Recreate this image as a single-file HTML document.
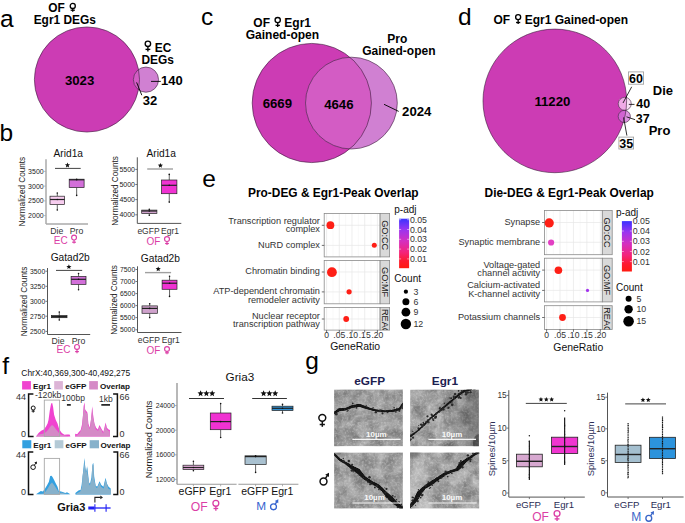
<!DOCTYPE html>
<html><head><meta charset="utf-8"><style>
html,body{margin:0;padding:0;background:#fff;width:685px;height:523px;overflow:hidden}
svg{display:block}
text{font-family:"Liberation Sans", sans-serif}
</style></head><body>
<svg width="685" height="523" viewBox="0 0 685 523">
<rect width="685" height="523" fill="#fff"/>
<text x="0" y="26.5" font-size="24.5" text-anchor="start" fill="#000">a</text>
<text x="-0.6" y="141" font-size="24.5" text-anchor="start" fill="#000">b</text>
<text x="201" y="24.7" font-size="24.5" text-anchor="start" fill="#000">c</text>
<text x="458" y="24.7" font-size="24.5" text-anchor="start" fill="#000">d</text>
<text x="202.3" y="187" font-size="24.5" text-anchor="start" fill="#000">e</text>
<text x="2.3" y="373.7" font-size="24.5" text-anchor="start" fill="#000">f</text>
<text x="305.3" y="369.2" font-size="24.5" text-anchor="start" fill="#000">g</text>
<text x="48.3" y="11.7" font-size="11.9" font-weight="bold" text-anchor="start" fill="#000">OF</text>
<circle cx="72.75" cy="5.9" r="2.5500000000000003" fill="none" stroke="#000" stroke-width="1.3"/>
<line x1="72.75" y1="8.450000000000001" x2="72.75" y2="11.7" stroke="#000" stroke-width="1.3"/>
<line x1="70.65" y1="10.2" x2="74.85" y2="10.2" stroke="#000" stroke-width="1.3"/>
<text x="64.75" y="23.9" font-size="11.9" font-weight="bold" text-anchor="middle" fill="#000">Egr1 DEGs</text>
<clipPath id="abig"><circle cx="86.95" cy="79.5" r="52.55"/></clipPath>
<circle cx="86.95" cy="79.5" r="52.55" fill="#cc3cb4" stroke="none" stroke-width="1"/>
<circle cx="145.95" cy="79.65" r="12.6" fill="#d080d2" stroke="none" stroke-width="1"/>
<g clip-path="url(#abig)">
<circle cx="145.95" cy="79.65" r="12.6" fill="#d35cc4" stroke="none" stroke-width="1"/>
</g>
<circle cx="86.95" cy="79.5" r="52.55" fill="none" stroke="#3a1d3a" stroke-width="0.6"/>
<circle cx="145.95" cy="79.65" r="12.6" fill="none" stroke="#3a1d3a" stroke-width="0.6"/>
<text x="79.6" y="84.5" font-size="13.2" font-weight="bold" text-anchor="middle" fill="#000">3023</text>
<circle cx="147.9" cy="43.8" r="2.7249999999999996" fill="none" stroke="#000" stroke-width="1.35"/>
<line x1="147.9" y1="46.525" x2="147.9" y2="51.6" stroke="#000" stroke-width="1.35"/>
<line x1="145.5" y1="49.4" x2="150.3" y2="49.4" stroke="#000" stroke-width="1.35"/>
<text x="154.8" y="51.5" font-size="11.9" font-weight="bold" text-anchor="start" fill="#000">EC</text>
<text x="157.6" y="63.6" font-size="11.9" font-weight="bold" text-anchor="middle" fill="#000">DEGs</text>
<text x="171.95" y="84.5" font-size="13" font-weight="bold" text-anchor="middle" fill="#000">140</text>
<text x="150.05" y="105.4" font-size="13" font-weight="bold" text-anchor="middle" fill="#000">32</text>
<line x1="151.0" y1="81.4" x2="160.8" y2="81.4" stroke="#000" stroke-width="0.9"/>
<line x1="136.6" y1="82.4" x2="141.8" y2="95.2" stroke="#000" stroke-width="0.9"/>
<text x="282.2" y="27.2" font-size="12.0" font-weight="bold" text-anchor="middle" fill="#000">OF <tspan dx="11">Egr1</tspan></text>
<circle cx="277.7" cy="20.1" r="2.625" fill="none" stroke="#000" stroke-width="1.35"/>
<line x1="277.7" y1="22.725" x2="277.7" y2="27.0" stroke="#000" stroke-width="1.35"/>
<line x1="275.5" y1="25.4" x2="279.9" y2="25.4" stroke="#000" stroke-width="1.35"/>
<text x="282.4" y="38.8" font-size="12.0" font-weight="bold" text-anchor="middle" fill="#000">Gained-open</text>
<text x="397.3" y="43.1" font-size="12.0" font-weight="bold" text-anchor="middle" fill="#000">Pro</text>
<text x="398.85" y="55" font-size="12.0" font-weight="bold" text-anchor="middle" fill="#000">Gained-open</text>
<clipPath id="cbig"><circle cx="311.8" cy="103.0" r="59.6"/></clipPath>
<circle cx="311.8" cy="103.0" r="59.6" fill="#cc3cb4" stroke="none" stroke-width="1"/>
<circle cx="351.4" cy="103.1" r="45.9" fill="#d080d2" stroke="none" stroke-width="1"/>
<g clip-path="url(#cbig)">
<circle cx="351.4" cy="103.1" r="45.9" fill="#d35cc4" stroke="none" stroke-width="1"/>
</g>
<circle cx="311.8" cy="103.0" r="59.6" fill="none" stroke="#3a1d3a" stroke-width="0.6"/>
<circle cx="351.4" cy="103.1" r="45.9" fill="none" stroke="#3a1d3a" stroke-width="0.6"/>
<text x="277.3" y="108.4" font-size="13.2" font-weight="bold" text-anchor="middle" fill="#000">6669</text>
<text x="338.85" y="108.7" font-size="13.2" font-weight="bold" text-anchor="middle" fill="#000">4646</text>
<text x="416.75" y="115.7" font-size="13.2" font-weight="bold" text-anchor="middle" fill="#000">2024</text>
<line x1="384" y1="104.3" x2="398.7" y2="111.4" stroke="#000" stroke-width="0.9"/>
<text x="493.5" y="24.3" font-size="12.0" font-weight="bold" text-anchor="start" fill="#000">OF <tspan dx="11.2">Egr1 Gained-open</tspan></text>
<circle cx="518.15" cy="17.1" r="2.5250000000000004" fill="none" stroke="#000" stroke-width="1.35"/>
<line x1="518.15" y1="19.625" x2="518.15" y2="24.0" stroke="#000" stroke-width="1.35"/>
<line x1="516.05" y1="22.5" x2="520.25" y2="22.5" stroke="#000" stroke-width="1.35"/>
<clipPath id="dbig"><circle cx="554.8" cy="100.9" r="71.8"/></clipPath>
<circle cx="554.8" cy="100.9" r="71.8" fill="#cc3cb4" stroke="none" stroke-width="1"/>
<text x="552.4" y="105.9" font-size="13.2" font-weight="bold" text-anchor="middle" fill="#000">11220</text>
<circle cx="624.75" cy="103.8" r="6.5" fill="#f8e0f4" stroke="none" stroke-width="1"/>
<circle cx="624.3" cy="116.45" r="6.1" fill="#dc96e0" stroke="none" stroke-width="1"/>
<g clip-path="url(#dbig)">
<circle cx="624.75" cy="103.8" r="6.5" fill="#f0aae6" stroke="none" stroke-width="1"/>
<circle cx="624.3" cy="116.45" r="6.1" fill="#d264d2" stroke="none" stroke-width="1"/>
</g>
<circle cx="554.8" cy="100.9" r="71.8" fill="none" stroke="#3a1d3a" stroke-width="0.6"/>
<circle cx="624.75" cy="103.8" r="6.5" fill="none" stroke="#3a1d3a" stroke-width="0.6"/>
<circle cx="624.3" cy="116.45" r="6.1" fill="none" stroke="#3a1d3a" stroke-width="0.6"/>
<rect x="628.4" y="71.9" width="15.2" height="12.3" fill="#fff" stroke="#999" stroke-width="0.8"/>
<text x="636" y="82.6" font-size="12.5" font-weight="bold" text-anchor="middle" fill="#000">60</text>
<rect x="618.9" y="137.1" width="14.7" height="11.9" fill="#fff" stroke="#999" stroke-width="0.8"/>
<text x="626.25" y="147.6" font-size="12.5" font-weight="bold" text-anchor="middle" fill="#000">35</text>
<text x="643.25" y="108.3" font-size="12.5" font-weight="bold" text-anchor="middle" fill="#000">40</text>
<text x="642.8" y="123" font-size="12.5" font-weight="bold" text-anchor="middle" fill="#000">37</text>
<text x="662.9" y="94.9" font-size="13" font-weight="bold" text-anchor="middle" fill="#000">Die</text>
<text x="659.5" y="134.9" font-size="13" font-weight="bold" text-anchor="middle" fill="#000">Pro</text>
<line x1="631.7" y1="86.8" x2="623" y2="103" stroke="#000" stroke-width="0.8"/>
<line x1="628.8" y1="104.4" x2="634.5" y2="104.4" stroke="#000" stroke-width="0.8"/>
<line x1="626.5" y1="116.8" x2="635.1" y2="119.7" stroke="#000" stroke-width="0.8"/>
<line x1="623.6" y1="117.4" x2="626.9" y2="135.6" stroke="#000" stroke-width="0.8"/>
<line x1="46.0" y1="159.3" x2="46.0" y2="224" stroke="#aaa" stroke-width="1.5"/>
<line x1="46.0" y1="224" x2="88" y2="224" stroke="#aaa" stroke-width="1.5"/>
<line x1="44.0" y1="171.4" x2="46.0" y2="171.4" stroke="#aaa" stroke-width="0.8"/>
<text x="43.7" y="173.9" font-size="7.0" text-anchor="end" fill="#222">3500</text>
<line x1="44.0" y1="186.1" x2="46.0" y2="186.1" stroke="#aaa" stroke-width="0.8"/>
<text x="43.7" y="188.6" font-size="7.0" text-anchor="end" fill="#222">3000</text>
<line x1="44.0" y1="200.9" x2="46.0" y2="200.9" stroke="#aaa" stroke-width="0.8"/>
<text x="43.7" y="203.4" font-size="7.0" text-anchor="end" fill="#222">2500</text>
<line x1="44.0" y1="215.6" x2="46.0" y2="215.6" stroke="#aaa" stroke-width="0.8"/>
<text x="43.7" y="218.1" font-size="7.0" text-anchor="end" fill="#222">2000</text>
<text x="25" y="191.6" font-size="8.2" text-anchor="middle" fill="#222" transform="rotate(-90 25 191.6)">Normalized Counts</text>
<line x1="57.3" y1="193" x2="57.3" y2="196.2" stroke="#222" stroke-width="0.7"/>
<line x1="57.3" y1="204.6" x2="57.3" y2="210" stroke="#222" stroke-width="0.7"/>
<rect x="50" y="196.2" width="14.599999999999994" height="8.400000000000006" fill="#f7cdef" stroke="#222" stroke-width="0.7"/>
<line x1="50" y1="199.5" x2="64.6" y2="199.5" stroke="#222" stroke-width="1.2"/>
<circle cx="57.3" cy="210" r="0.8" fill="#111" stroke="none" stroke-width="1"/>
<circle cx="57.3" cy="193" r="0.8" fill="#111" stroke="none" stroke-width="1"/>
<circle cx="57.3" cy="199.5" r="0.8" fill="#111" stroke="none" stroke-width="1"/>
<line x1="76.65" y1="179.2" x2="76.65" y2="179.2" stroke="#222" stroke-width="0.7"/>
<line x1="76.65" y1="187.6" x2="76.65" y2="195.4" stroke="#222" stroke-width="0.7"/>
<rect x="69.2" y="179.2" width="14.899999999999991" height="8.400000000000006" fill="#d26fd9" stroke="#222" stroke-width="0.7"/>
<line x1="69.2" y1="179.8" x2="84.1" y2="179.8" stroke="#222" stroke-width="1.2"/>
<circle cx="76.65" cy="195.4" r="0.8" fill="#111" stroke="none" stroke-width="1"/>
<circle cx="76.65" cy="179.2" r="0.8" fill="#111" stroke="none" stroke-width="1"/>
<circle cx="76.65" cy="179.8" r="0.8" fill="#111" stroke="none" stroke-width="1"/>
<line x1="55" y1="168.4" x2="80.7" y2="168.4" stroke="#444" stroke-width="1.0"/>
<polygon points="67.50,162.50 68.21,164.22 70.07,164.37 68.66,165.58 69.09,167.38 67.50,166.41 65.91,167.38 66.34,165.58 64.93,164.37 66.79,164.22" fill="#111"/>
<text x="68.3" y="157.4" font-size="10.2" text-anchor="middle" fill="#111">Arid1a</text>
<text x="56.8" y="233.5" font-size="8.7" text-anchor="middle" fill="#333">Die</text>
<text x="76.5" y="233.5" font-size="8.7" text-anchor="middle" fill="#333">Pro</text>
<text x="60.75" y="243.9" font-size="10" text-anchor="middle" fill="#db3ea6">EC</text>
<circle cx="74.05" cy="237.6" r="2.425" fill="none" stroke="#db3ea6" stroke-width="1.15"/>
<line x1="74.05" y1="240.025" x2="74.05" y2="243.6" stroke="#db3ea6" stroke-width="1.15"/>
<line x1="72.14999999999999" y1="242.2" x2="75.95" y2="242.2" stroke="#db3ea6" stroke-width="1.15"/>
<line x1="137.3" y1="157.3" x2="137.3" y2="223.4" stroke="#555" stroke-width="1.0"/>
<line x1="137.3" y1="223.4" x2="181.3" y2="223.4" stroke="#555" stroke-width="1.0"/>
<line x1="135.3" y1="169.4" x2="137.3" y2="169.4" stroke="#555" stroke-width="0.8"/>
<text x="135.0" y="171.9" font-size="7.0" text-anchor="end" fill="#222">5500</text>
<line x1="135.3" y1="184.5" x2="137.3" y2="184.5" stroke="#555" stroke-width="0.8"/>
<text x="135.0" y="187.0" font-size="7.0" text-anchor="end" fill="#222">5000</text>
<line x1="135.3" y1="199.6" x2="137.3" y2="199.6" stroke="#555" stroke-width="0.8"/>
<text x="135.0" y="202.1" font-size="7.0" text-anchor="end" fill="#222">4500</text>
<line x1="135.3" y1="214.8" x2="137.3" y2="214.8" stroke="#555" stroke-width="0.8"/>
<text x="135.0" y="217.3" font-size="7.0" text-anchor="end" fill="#222">4000</text>
<text x="117.5" y="191" font-size="8.2" text-anchor="middle" fill="#222" transform="rotate(-90 117.5 191)">Normalized Counts</text>
<line x1="149.3" y1="209.3" x2="149.3" y2="210.1" stroke="#222" stroke-width="0.7"/>
<line x1="149.3" y1="213.6" x2="149.3" y2="215.3" stroke="#222" stroke-width="0.7"/>
<rect x="141.7" y="210.1" width="15.200000000000017" height="3.5" fill="#cfa2cc" stroke="#222" stroke-width="0.7"/>
<line x1="141.7" y1="211.0" x2="156.9" y2="211.0" stroke="#222" stroke-width="1.2"/>
<circle cx="149.3" cy="215.3" r="0.8" fill="#111" stroke="none" stroke-width="1"/>
<circle cx="149.3" cy="209.3" r="0.8" fill="#111" stroke="none" stroke-width="1"/>
<circle cx="149.3" cy="211.0" r="0.8" fill="#111" stroke="none" stroke-width="1"/>
<line x1="169.25" y1="174.4" x2="169.25" y2="180" stroke="#222" stroke-width="0.7"/>
<line x1="169.25" y1="193.7" x2="169.25" y2="202.1" stroke="#222" stroke-width="0.7"/>
<rect x="161.6" y="180" width="15.300000000000011" height="13.699999999999989" fill="#f032d2" stroke="#222" stroke-width="0.7"/>
<line x1="161.6" y1="185.3" x2="176.9" y2="185.3" stroke="#222" stroke-width="1.2"/>
<circle cx="169.25" cy="202.1" r="0.8" fill="#111" stroke="none" stroke-width="1"/>
<circle cx="169.25" cy="174.4" r="0.8" fill="#111" stroke="none" stroke-width="1"/>
<circle cx="169.25" cy="185.3" r="0.8" fill="#111" stroke="none" stroke-width="1"/>
<line x1="147.2" y1="169" x2="173" y2="169" stroke="#a0a0a0" stroke-width="1.4"/>
<polygon points="160.40,162.90 161.11,164.62 162.97,164.77 161.56,165.98 161.99,167.78 160.40,166.81 158.81,167.78 159.24,165.98 157.83,164.77 159.69,164.62" fill="#111"/>
<text x="161.2" y="157.4" font-size="10.2" text-anchor="middle" fill="#111">Arid1a</text>
<text x="148.5" y="233.5" font-size="8.5" text-anchor="middle" fill="#333">eGFP</text>
<text x="170.05" y="233.5" font-size="8.5" text-anchor="middle" fill="#333">Egr1</text>
<text x="153.4" y="245.0" font-size="10" text-anchor="middle" fill="#db3ea6">OF</text>
<circle cx="167.0" cy="239.05" r="2.4749999999999996" fill="none" stroke="#db3ea6" stroke-width="1.15"/>
<line x1="167.0" y1="241.525" x2="167.0" y2="244.9" stroke="#db3ea6" stroke-width="1.15"/>
<line x1="165.1" y1="243.5" x2="168.9" y2="243.5" stroke="#db3ea6" stroke-width="1.15"/>
<line x1="47.5" y1="268.0" x2="47.5" y2="334.5" stroke="#555" stroke-width="1.0"/>
<line x1="47.5" y1="334.5" x2="90.2" y2="334.5" stroke="#555" stroke-width="1.0"/>
<line x1="45.5" y1="271.2" x2="47.5" y2="271.2" stroke="#555" stroke-width="0.8"/>
<text x="45.2" y="273.7" font-size="6.8" text-anchor="end" fill="#222">3500</text>
<line x1="45.5" y1="286.3" x2="47.5" y2="286.3" stroke="#555" stroke-width="0.8"/>
<text x="45.2" y="288.8" font-size="6.8" text-anchor="end" fill="#222">3250</text>
<line x1="45.5" y1="301.3" x2="47.5" y2="301.3" stroke="#555" stroke-width="0.8"/>
<text x="45.2" y="303.8" font-size="6.8" text-anchor="end" fill="#222">3000</text>
<line x1="45.5" y1="316.2" x2="47.5" y2="316.2" stroke="#555" stroke-width="0.8"/>
<text x="45.2" y="318.7" font-size="6.8" text-anchor="end" fill="#222">2750</text>
<line x1="45.5" y1="331.4" x2="47.5" y2="331.4" stroke="#555" stroke-width="0.8"/>
<text x="45.2" y="333.9" font-size="6.8" text-anchor="end" fill="#222">2500</text>
<text x="26.7" y="301.5" font-size="8.2" text-anchor="middle" fill="#222" transform="rotate(-90 26.7 301.5)">Normalized Counts</text>
<line x1="59.3" y1="312" x2="59.3" y2="315.6" stroke="#222" stroke-width="0.7"/>
<line x1="59.3" y1="317.7" x2="59.3" y2="320" stroke="#222" stroke-width="0.7"/>
<rect x="51.6" y="315.6" width="15.399999999999999" height="2.099999999999966" fill="#555" stroke="#222" stroke-width="0.7"/>
<line x1="51.6" y1="316.6" x2="67" y2="316.6" stroke="#222" stroke-width="1.2"/>
<circle cx="59.3" cy="320" r="0.8" fill="#111" stroke="none" stroke-width="1"/>
<circle cx="59.3" cy="312" r="0.8" fill="#111" stroke="none" stroke-width="1"/>
<circle cx="59.3" cy="316.6" r="0.8" fill="#111" stroke="none" stroke-width="1"/>
<line x1="78.55" y1="273.5" x2="78.55" y2="276.4" stroke="#222" stroke-width="0.7"/>
<line x1="78.55" y1="284.4" x2="78.55" y2="289.8" stroke="#222" stroke-width="0.7"/>
<rect x="71.1" y="276.4" width="14.900000000000006" height="8.0" fill="#d26fd9" stroke="#222" stroke-width="0.7"/>
<line x1="71.1" y1="279.3" x2="86" y2="279.3" stroke="#222" stroke-width="1.2"/>
<circle cx="78.55" cy="289.8" r="0.8" fill="#111" stroke="none" stroke-width="1"/>
<circle cx="78.55" cy="273.5" r="0.8" fill="#111" stroke="none" stroke-width="1"/>
<circle cx="78.55" cy="279.3" r="0.8" fill="#111" stroke="none" stroke-width="1"/>
<line x1="56" y1="270.4" x2="82.2" y2="270.4" stroke="#444" stroke-width="1.0"/>
<polygon points="68.90,264.20 69.61,265.92 71.47,266.07 70.06,267.28 70.49,269.08 68.90,268.11 67.31,269.08 67.74,267.28 66.33,266.07 68.19,265.92" fill="#111"/>
<text x="70.2" y="261.3" font-size="10.2" text-anchor="middle" fill="#111">Gatad2b</text>
<text x="58.0" y="343.6" font-size="8.7" text-anchor="middle" fill="#333">Die</text>
<text x="78.6" y="343.6" font-size="8.7" text-anchor="middle" fill="#333">Pro</text>
<text x="63.55" y="353.4" font-size="10" text-anchor="middle" fill="#db3ea6">EC</text>
<circle cx="77.0" cy="346.9" r="2.425" fill="none" stroke="#db3ea6" stroke-width="1.15"/>
<line x1="77.0" y1="349.325" x2="77.0" y2="353.3" stroke="#db3ea6" stroke-width="1.15"/>
<line x1="75.1" y1="351.6" x2="78.9" y2="351.6" stroke="#db3ea6" stroke-width="1.15"/>
<line x1="137.5" y1="266.3" x2="137.5" y2="332.5" stroke="#555" stroke-width="1.0"/>
<line x1="137.5" y1="332.5" x2="181.5" y2="332.5" stroke="#555" stroke-width="1.0"/>
<line x1="135.5" y1="269.5" x2="137.5" y2="269.5" stroke="#555" stroke-width="0.8"/>
<text x="135.2" y="272.0" font-size="6.8" text-anchor="end" fill="#222">7500</text>
<line x1="135.5" y1="281.5" x2="137.5" y2="281.5" stroke="#555" stroke-width="0.8"/>
<text x="135.2" y="284.0" font-size="6.8" text-anchor="end" fill="#222">7000</text>
<line x1="135.5" y1="293.6" x2="137.5" y2="293.6" stroke="#555" stroke-width="0.8"/>
<text x="135.2" y="296.1" font-size="6.8" text-anchor="end" fill="#222">6500</text>
<line x1="135.5" y1="305.6" x2="137.5" y2="305.6" stroke="#555" stroke-width="0.8"/>
<text x="135.2" y="308.1" font-size="6.8" text-anchor="end" fill="#222">6000</text>
<line x1="135.5" y1="317.6" x2="137.5" y2="317.6" stroke="#555" stroke-width="0.8"/>
<text x="135.2" y="320.1" font-size="6.8" text-anchor="end" fill="#222">5500</text>
<line x1="135.5" y1="329.8" x2="137.5" y2="329.8" stroke="#555" stroke-width="0.8"/>
<text x="135.2" y="332.3" font-size="6.8" text-anchor="end" fill="#222">5000</text>
<text x="117.3" y="300" font-size="8.2" text-anchor="middle" fill="#222" transform="rotate(-90 117.3 300)">Normalized Counts</text>
<line x1="149.7" y1="303.7" x2="149.7" y2="305.9" stroke="#222" stroke-width="0.7"/>
<line x1="149.7" y1="313.3" x2="149.7" y2="317.6" stroke="#222" stroke-width="0.7"/>
<rect x="142" y="305.9" width="15.400000000000006" height="7.400000000000034" fill="#cfa2cc" stroke="#222" stroke-width="0.7"/>
<line x1="142" y1="308.4" x2="157.4" y2="308.4" stroke="#222" stroke-width="1.2"/>
<circle cx="149.7" cy="317.6" r="0.8" fill="#111" stroke="none" stroke-width="1"/>
<circle cx="149.7" cy="303.7" r="0.8" fill="#111" stroke="none" stroke-width="1"/>
<circle cx="149.7" cy="308.4" r="0.8" fill="#111" stroke="none" stroke-width="1"/>
<line x1="169.55" y1="276.3" x2="169.55" y2="280.2" stroke="#222" stroke-width="0.7"/>
<line x1="169.55" y1="289.3" x2="169.55" y2="296.4" stroke="#222" stroke-width="0.7"/>
<rect x="162.1" y="280.2" width="14.900000000000006" height="9.100000000000023" fill="#f032d2" stroke="#222" stroke-width="0.7"/>
<line x1="162.1" y1="283.2" x2="177" y2="283.2" stroke="#222" stroke-width="1.2"/>
<circle cx="169.55" cy="296.4" r="0.8" fill="#111" stroke="none" stroke-width="1"/>
<circle cx="169.55" cy="276.3" r="0.8" fill="#111" stroke="none" stroke-width="1"/>
<circle cx="169.55" cy="283.2" r="0.8" fill="#111" stroke="none" stroke-width="1"/>
<line x1="145" y1="272.6" x2="171.1" y2="272.6" stroke="#a0a0a0" stroke-width="1.4"/>
<polygon points="158.20,266.40 158.91,268.12 160.77,268.27 159.36,269.48 159.79,271.28 158.20,270.31 156.61,271.28 157.04,269.48 155.63,268.27 157.49,268.12" fill="#111"/>
<text x="160.4" y="261.8" font-size="10.2" text-anchor="middle" fill="#111">Gatad2b</text>
<text x="148.8" y="342.6" font-size="8.5" text-anchor="middle" fill="#333">eGFP</text>
<text x="170.8" y="342.6" font-size="8.5" text-anchor="middle" fill="#333">Egr1</text>
<text x="153.5" y="354" font-size="10" text-anchor="middle" fill="#db3ea6">OF</text>
<circle cx="167.0" cy="349.0" r="2.425" fill="none" stroke="#db3ea6" stroke-width="1.15"/>
<line x1="167.0" y1="351.425" x2="167.0" y2="354.3" stroke="#db3ea6" stroke-width="1.15"/>
<line x1="165.1" y1="352.8" x2="168.9" y2="352.8" stroke="#db3ea6" stroke-width="1.15"/>
<defs>
<linearGradient id="pgrad" x1="0" y1="0" x2="0" y2="1">
<stop offset="0" stop-color="#3b32ff"/>
<stop offset="0.22" stop-color="#9a35f0"/>
<stop offset="0.45" stop-color="#d42fc0"/>
<stop offset="0.68" stop-color="#f4237a"/>
<stop offset="0.85" stop-color="#fd1a30"/>
<stop offset="1" stop-color="#ff1a10"/>
</linearGradient>
</defs>
<text x="333.3" y="196.6" font-size="11.9" font-weight="bold" text-anchor="middle" fill="#000">Pro-DEG &amp; Egr1-Peak Overlap</text>
<rect x="324.2" y="213.5" width="55.900000000000034" height="43.39999999999998" fill="#fff" stroke="none" stroke-width="1"/>
<line x1="332.95000000000005" y1="213.5" x2="332.95000000000005" y2="256.9" stroke="#f3f3f3" stroke-width="0.5"/>
<line x1="345.65000000000003" y1="213.5" x2="345.65000000000003" y2="256.9" stroke="#f3f3f3" stroke-width="0.5"/>
<line x1="358.35" y1="213.5" x2="358.35" y2="256.9" stroke="#f3f3f3" stroke-width="0.5"/>
<line x1="371.05" y1="213.5" x2="371.05" y2="256.9" stroke="#f3f3f3" stroke-width="0.5"/>
<line x1="326.6" y1="213.5" x2="326.6" y2="256.9" stroke="#e6e6e6" stroke-width="0.7"/>
<line x1="339.3" y1="213.5" x2="339.3" y2="256.9" stroke="#e6e6e6" stroke-width="0.7"/>
<line x1="352.0" y1="213.5" x2="352.0" y2="256.9" stroke="#e6e6e6" stroke-width="0.7"/>
<line x1="364.70000000000005" y1="213.5" x2="364.70000000000005" y2="256.9" stroke="#e6e6e6" stroke-width="0.7"/>
<line x1="377.40000000000003" y1="213.5" x2="377.40000000000003" y2="256.9" stroke="#e6e6e6" stroke-width="0.7"/>
<line x1="324.2" y1="225.3" x2="380.1" y2="225.3" stroke="#e6e6e6" stroke-width="0.7"/>
<line x1="324.2" y1="245.4" x2="380.1" y2="245.4" stroke="#e6e6e6" stroke-width="0.7"/>
<rect x="324.2" y="213.5" width="55.900000000000034" height="43.39999999999998" fill="none" stroke="#8a8a8a" stroke-width="0.8"/>
<rect x="380.1" y="213.5" width="9.5" height="43.39999999999998" fill="#d9d9d9" stroke="#8a8a8a" stroke-width="0.8"/>
<clipPath id="cl0"><rect x="380.1" y="213.5" width="9.5" height="43.39999999999998"/></clipPath>
<g clip-path="url(#cl0)">
<text x="381.55" y="235.2" font-size="9.2" text-anchor="middle" fill="#1a1a1a" transform="rotate(90 381.55 235.2)">GO:CC</text>
</g>
<rect x="324.2" y="260.4" width="55.900000000000034" height="43.400000000000034" fill="#fff" stroke="none" stroke-width="1"/>
<line x1="332.95000000000005" y1="260.4" x2="332.95000000000005" y2="303.8" stroke="#f3f3f3" stroke-width="0.5"/>
<line x1="345.65000000000003" y1="260.4" x2="345.65000000000003" y2="303.8" stroke="#f3f3f3" stroke-width="0.5"/>
<line x1="358.35" y1="260.4" x2="358.35" y2="303.8" stroke="#f3f3f3" stroke-width="0.5"/>
<line x1="371.05" y1="260.4" x2="371.05" y2="303.8" stroke="#f3f3f3" stroke-width="0.5"/>
<line x1="326.6" y1="260.4" x2="326.6" y2="303.8" stroke="#e6e6e6" stroke-width="0.7"/>
<line x1="339.3" y1="260.4" x2="339.3" y2="303.8" stroke="#e6e6e6" stroke-width="0.7"/>
<line x1="352.0" y1="260.4" x2="352.0" y2="303.8" stroke="#e6e6e6" stroke-width="0.7"/>
<line x1="364.70000000000005" y1="260.4" x2="364.70000000000005" y2="303.8" stroke="#e6e6e6" stroke-width="0.7"/>
<line x1="377.40000000000003" y1="260.4" x2="377.40000000000003" y2="303.8" stroke="#e6e6e6" stroke-width="0.7"/>
<line x1="324.2" y1="272.0" x2="380.1" y2="272.0" stroke="#e6e6e6" stroke-width="0.7"/>
<line x1="324.2" y1="291.9" x2="380.1" y2="291.9" stroke="#e6e6e6" stroke-width="0.7"/>
<rect x="324.2" y="260.4" width="55.900000000000034" height="43.400000000000034" fill="none" stroke="#8a8a8a" stroke-width="0.8"/>
<rect x="380.1" y="260.4" width="9.5" height="43.400000000000034" fill="#d9d9d9" stroke="#8a8a8a" stroke-width="0.8"/>
<clipPath id="cl1"><rect x="380.1" y="260.4" width="9.5" height="43.400000000000034"/></clipPath>
<g clip-path="url(#cl1)">
<text x="381.55" y="282.1" font-size="9.2" text-anchor="middle" fill="#1a1a1a" transform="rotate(90 381.55 282.1)">GO:MF</text>
</g>
<rect x="324.2" y="307.4" width="55.900000000000034" height="22.700000000000045" fill="#fff" stroke="none" stroke-width="1"/>
<line x1="332.95000000000005" y1="307.4" x2="332.95000000000005" y2="330.1" stroke="#f3f3f3" stroke-width="0.5"/>
<line x1="345.65000000000003" y1="307.4" x2="345.65000000000003" y2="330.1" stroke="#f3f3f3" stroke-width="0.5"/>
<line x1="358.35" y1="307.4" x2="358.35" y2="330.1" stroke="#f3f3f3" stroke-width="0.5"/>
<line x1="371.05" y1="307.4" x2="371.05" y2="330.1" stroke="#f3f3f3" stroke-width="0.5"/>
<line x1="326.6" y1="307.4" x2="326.6" y2="330.1" stroke="#e6e6e6" stroke-width="0.7"/>
<line x1="339.3" y1="307.4" x2="339.3" y2="330.1" stroke="#e6e6e6" stroke-width="0.7"/>
<line x1="352.0" y1="307.4" x2="352.0" y2="330.1" stroke="#e6e6e6" stroke-width="0.7"/>
<line x1="364.70000000000005" y1="307.4" x2="364.70000000000005" y2="330.1" stroke="#e6e6e6" stroke-width="0.7"/>
<line x1="377.40000000000003" y1="307.4" x2="377.40000000000003" y2="330.1" stroke="#e6e6e6" stroke-width="0.7"/>
<line x1="324.2" y1="319.0" x2="380.1" y2="319.0" stroke="#e6e6e6" stroke-width="0.7"/>
<rect x="324.2" y="307.4" width="55.900000000000034" height="22.700000000000045" fill="none" stroke="#8a8a8a" stroke-width="0.8"/>
<rect x="380.1" y="307.4" width="9.5" height="22.700000000000045" fill="#d9d9d9" stroke="#8a8a8a" stroke-width="0.8"/>
<clipPath id="cl2"><rect x="380.1" y="307.4" width="9.5" height="22.700000000000045"/></clipPath>
<g clip-path="url(#cl2)">
<text x="381.55" y="308.9" font-size="9.2" text-anchor="start" fill="#1a1a1a" transform="rotate(90 381.55 308.9)">REAC</text>
</g>
<circle cx="330.4" cy="225.2" r="3.9" fill="#fe1f16" stroke="none" stroke-width="1"/>
<circle cx="374.3" cy="245.3" r="2.5" fill="#fe1f16" stroke="none" stroke-width="1"/>
<circle cx="331.9" cy="272.2" r="4.9" fill="#fe1f16" stroke="none" stroke-width="1"/>
<circle cx="349.1" cy="291.8" r="2.6" fill="#fe1f16" stroke="none" stroke-width="1"/>
<circle cx="346.2" cy="319.0" r="2.9" fill="#fe1f16" stroke="none" stroke-width="1"/>
<line x1="321.8" y1="225.3" x2="324.2" y2="225.3" stroke="#333" stroke-width="0.7"/>
<text x="319.9" y="223.6" font-size="9.2" text-anchor="end" fill="#333">Transcription regulator</text>
<text x="319.9" y="231.8" font-size="9.2" text-anchor="end" fill="#333">complex</text>
<line x1="321.8" y1="245.4" x2="324.2" y2="245.4" stroke="#333" stroke-width="0.7"/>
<text x="319.9" y="248.0" font-size="9.2" text-anchor="end" fill="#333">NuRD complex</text>
<line x1="321.8" y1="272.0" x2="324.2" y2="272.0" stroke="#333" stroke-width="0.7"/>
<text x="319.9" y="274.3" font-size="9.2" text-anchor="end" fill="#333">Chromatin binding</text>
<line x1="321.8" y1="291.9" x2="324.2" y2="291.9" stroke="#333" stroke-width="0.7"/>
<text x="319.9" y="294.3" font-size="9.2" text-anchor="end" fill="#333">ATP-dependent chromatin</text>
<text x="319.9" y="302.5" font-size="9.2" text-anchor="end" fill="#333">remodeler activity</text>
<line x1="321.8" y1="319.0" x2="324.2" y2="319.0" stroke="#333" stroke-width="0.7"/>
<text x="319.9" y="318.7" font-size="9.2" text-anchor="end" fill="#333">Nuclear receptor</text>
<text x="319.9" y="326.8" font-size="9.2" text-anchor="end" fill="#333">transcription pathway</text>
<line x1="326.6" y1="330.1" x2="326.6" y2="332.5" stroke="#333" stroke-width="0.7"/>
<text x="326.6" y="338.3" font-size="8.6" text-anchor="middle" fill="#333">0</text>
<line x1="339.3" y1="330.1" x2="339.3" y2="332.5" stroke="#333" stroke-width="0.7"/>
<text x="339.3" y="338.3" font-size="8.6" text-anchor="middle" fill="#333">.05</text>
<line x1="352.0" y1="330.1" x2="352.0" y2="332.5" stroke="#333" stroke-width="0.7"/>
<text x="352.0" y="338.3" font-size="8.6" text-anchor="middle" fill="#333">.10</text>
<line x1="364.70000000000005" y1="330.1" x2="364.70000000000005" y2="332.5" stroke="#333" stroke-width="0.7"/>
<text x="364.70000000000005" y="338.3" font-size="8.6" text-anchor="middle" fill="#333">.15</text>
<line x1="377.40000000000003" y1="330.1" x2="377.40000000000003" y2="332.5" stroke="#333" stroke-width="0.7"/>
<text x="377.40000000000003" y="338.3" font-size="8.6" text-anchor="middle" fill="#333">.20</text>
<text x="355.15" y="350.3" font-size="10.45" text-anchor="middle" fill="#111">GeneRatio</text>
<text x="394.3" y="213.4" font-size="10" text-anchor="start" fill="#111">p-adj</text>
<rect x="399.1" y="218.7" width="10" height="49.5" fill="url(#pgrad)" stroke="none" stroke-width="1"/>
<line x1="399.1" y1="219.7" x2="401.1" y2="219.7" stroke="#fff" stroke-width="0.5"/>
<line x1="407.1" y1="219.7" x2="409.1" y2="219.7" stroke="#fff" stroke-width="0.5"/>
<text x="409.90000000000003" y="222.79999999999998" font-size="8.8" text-anchor="start" fill="#333">0.05</text>
<line x1="399.1" y1="229.5" x2="401.1" y2="229.5" stroke="#fff" stroke-width="0.5"/>
<line x1="407.1" y1="229.5" x2="409.1" y2="229.5" stroke="#fff" stroke-width="0.5"/>
<text x="409.90000000000003" y="232.6" font-size="8.8" text-anchor="start" fill="#333">0.04</text>
<line x1="399.1" y1="239.3" x2="401.1" y2="239.3" stroke="#fff" stroke-width="0.5"/>
<line x1="407.1" y1="239.3" x2="409.1" y2="239.3" stroke="#fff" stroke-width="0.5"/>
<text x="409.90000000000003" y="242.4" font-size="8.8" text-anchor="start" fill="#333">0.03</text>
<line x1="399.1" y1="249.1" x2="401.1" y2="249.1" stroke="#fff" stroke-width="0.5"/>
<line x1="407.1" y1="249.1" x2="409.1" y2="249.1" stroke="#fff" stroke-width="0.5"/>
<text x="409.90000000000003" y="252.2" font-size="8.8" text-anchor="start" fill="#333">0.02</text>
<line x1="399.1" y1="258.9" x2="401.1" y2="258.9" stroke="#fff" stroke-width="0.5"/>
<line x1="407.1" y1="258.9" x2="409.1" y2="258.9" stroke="#fff" stroke-width="0.5"/>
<text x="409.90000000000003" y="262.0" font-size="8.8" text-anchor="start" fill="#333">0.01</text>
<text x="394.3" y="281.8" font-size="10" text-anchor="start" fill="#111">Count</text>
<circle cx="405.9" cy="291.7" r="2.1" fill="#000" stroke="none" stroke-width="1"/>
<text x="413.4" y="294.8" font-size="8.8" text-anchor="start" fill="#333">3</text>
<circle cx="405.9" cy="301.7" r="3.5" fill="#000" stroke="none" stroke-width="1"/>
<text x="413.4" y="304.8" font-size="8.8" text-anchor="start" fill="#333">6</text>
<circle cx="405.9" cy="312.2" r="4.4" fill="#000" stroke="none" stroke-width="1"/>
<text x="413.4" y="315.3" font-size="8.8" text-anchor="start" fill="#333">9</text>
<circle cx="405.9" cy="324.0" r="5.2" fill="#000" stroke="none" stroke-width="1"/>
<text x="413.4" y="327.1" font-size="8.8" text-anchor="start" fill="#333">12</text>
<text x="569.2" y="196.6" font-size="11.9" font-weight="bold" text-anchor="middle" fill="#000">Die-DEG &amp; Egr1-Peak Overlap</text>
<rect x="544.5" y="210.4" width="57.799999999999955" height="44.29999999999998" fill="#fff" stroke="none" stroke-width="1"/>
<line x1="553.315" y1="210.4" x2="553.315" y2="254.7" stroke="#f3f3f3" stroke-width="0.5"/>
<line x1="566.745" y1="210.4" x2="566.745" y2="254.7" stroke="#f3f3f3" stroke-width="0.5"/>
<line x1="580.1750000000001" y1="210.4" x2="580.1750000000001" y2="254.7" stroke="#f3f3f3" stroke-width="0.5"/>
<line x1="593.605" y1="210.4" x2="593.605" y2="254.7" stroke="#f3f3f3" stroke-width="0.5"/>
<line x1="546.6" y1="210.4" x2="546.6" y2="254.7" stroke="#e6e6e6" stroke-width="0.7"/>
<line x1="560.03" y1="210.4" x2="560.03" y2="254.7" stroke="#e6e6e6" stroke-width="0.7"/>
<line x1="573.46" y1="210.4" x2="573.46" y2="254.7" stroke="#e6e6e6" stroke-width="0.7"/>
<line x1="586.89" y1="210.4" x2="586.89" y2="254.7" stroke="#e6e6e6" stroke-width="0.7"/>
<line x1="600.32" y1="210.4" x2="600.32" y2="254.7" stroke="#e6e6e6" stroke-width="0.7"/>
<line x1="544.5" y1="222.5" x2="602.3" y2="222.5" stroke="#e6e6e6" stroke-width="0.7"/>
<line x1="544.5" y1="242.3" x2="602.3" y2="242.3" stroke="#e6e6e6" stroke-width="0.7"/>
<rect x="544.5" y="210.4" width="57.799999999999955" height="44.29999999999998" fill="none" stroke="#8a8a8a" stroke-width="0.8"/>
<rect x="602.3" y="210.4" width="9.900000000000091" height="44.29999999999998" fill="#d9d9d9" stroke="#8a8a8a" stroke-width="0.8"/>
<clipPath id="cr0"><rect x="602.3" y="210.4" width="9.900000000000091" height="44.29999999999998"/></clipPath>
<g clip-path="url(#cr0)">
<text x="603.95" y="232.55" font-size="9.2" text-anchor="middle" fill="#1a1a1a" transform="rotate(90 603.95 232.55)">GO:CC</text>
</g>
<rect x="544.5" y="258.2" width="57.799999999999955" height="43.69999999999999" fill="#fff" stroke="none" stroke-width="1"/>
<line x1="553.315" y1="258.2" x2="553.315" y2="301.9" stroke="#f3f3f3" stroke-width="0.5"/>
<line x1="566.745" y1="258.2" x2="566.745" y2="301.9" stroke="#f3f3f3" stroke-width="0.5"/>
<line x1="580.1750000000001" y1="258.2" x2="580.1750000000001" y2="301.9" stroke="#f3f3f3" stroke-width="0.5"/>
<line x1="593.605" y1="258.2" x2="593.605" y2="301.9" stroke="#f3f3f3" stroke-width="0.5"/>
<line x1="546.6" y1="258.2" x2="546.6" y2="301.9" stroke="#e6e6e6" stroke-width="0.7"/>
<line x1="560.03" y1="258.2" x2="560.03" y2="301.9" stroke="#e6e6e6" stroke-width="0.7"/>
<line x1="573.46" y1="258.2" x2="573.46" y2="301.9" stroke="#e6e6e6" stroke-width="0.7"/>
<line x1="586.89" y1="258.2" x2="586.89" y2="301.9" stroke="#e6e6e6" stroke-width="0.7"/>
<line x1="600.32" y1="258.2" x2="600.32" y2="301.9" stroke="#e6e6e6" stroke-width="0.7"/>
<line x1="544.5" y1="270.1" x2="602.3" y2="270.1" stroke="#e6e6e6" stroke-width="0.7"/>
<line x1="544.5" y1="290.4" x2="602.3" y2="290.4" stroke="#e6e6e6" stroke-width="0.7"/>
<rect x="544.5" y="258.2" width="57.799999999999955" height="43.69999999999999" fill="none" stroke="#8a8a8a" stroke-width="0.8"/>
<rect x="602.3" y="258.2" width="9.900000000000091" height="43.69999999999999" fill="#d9d9d9" stroke="#8a8a8a" stroke-width="0.8"/>
<clipPath id="cr1"><rect x="602.3" y="258.2" width="9.900000000000091" height="43.69999999999999"/></clipPath>
<g clip-path="url(#cr1)">
<text x="603.95" y="280.04999999999995" font-size="9.2" text-anchor="middle" fill="#1a1a1a" transform="rotate(90 603.95 280.04999999999995)">GO:MF</text>
</g>
<rect x="544.5" y="305.7" width="57.799999999999955" height="23.69999999999999" fill="#fff" stroke="none" stroke-width="1"/>
<line x1="553.315" y1="305.7" x2="553.315" y2="329.4" stroke="#f3f3f3" stroke-width="0.5"/>
<line x1="566.745" y1="305.7" x2="566.745" y2="329.4" stroke="#f3f3f3" stroke-width="0.5"/>
<line x1="580.1750000000001" y1="305.7" x2="580.1750000000001" y2="329.4" stroke="#f3f3f3" stroke-width="0.5"/>
<line x1="593.605" y1="305.7" x2="593.605" y2="329.4" stroke="#f3f3f3" stroke-width="0.5"/>
<line x1="546.6" y1="305.7" x2="546.6" y2="329.4" stroke="#e6e6e6" stroke-width="0.7"/>
<line x1="560.03" y1="305.7" x2="560.03" y2="329.4" stroke="#e6e6e6" stroke-width="0.7"/>
<line x1="573.46" y1="305.7" x2="573.46" y2="329.4" stroke="#e6e6e6" stroke-width="0.7"/>
<line x1="586.89" y1="305.7" x2="586.89" y2="329.4" stroke="#e6e6e6" stroke-width="0.7"/>
<line x1="600.32" y1="305.7" x2="600.32" y2="329.4" stroke="#e6e6e6" stroke-width="0.7"/>
<line x1="544.5" y1="317.5" x2="602.3" y2="317.5" stroke="#e6e6e6" stroke-width="0.7"/>
<rect x="544.5" y="305.7" width="57.799999999999955" height="23.69999999999999" fill="none" stroke="#8a8a8a" stroke-width="0.8"/>
<rect x="602.3" y="305.7" width="9.900000000000091" height="23.69999999999999" fill="#d9d9d9" stroke="#8a8a8a" stroke-width="0.8"/>
<clipPath id="cr2"><rect x="602.3" y="305.7" width="9.900000000000091" height="23.69999999999999"/></clipPath>
<g clip-path="url(#cr2)">
<text x="603.95" y="307.2" font-size="9.2" text-anchor="start" fill="#1a1a1a" transform="rotate(90 603.95 307.2)">REAC</text>
</g>
<circle cx="549.2" cy="222.9" r="4.6" fill="#fe1f16" stroke="none" stroke-width="1"/>
<circle cx="551.1" cy="242.5" r="3.1" fill="#e23fc3" stroke="none" stroke-width="1"/>
<circle cx="558.4" cy="270.3" r="3.8" fill="#fe1f16" stroke="none" stroke-width="1"/>
<circle cx="587.5" cy="290.4" r="1.6" fill="#a233ee" stroke="none" stroke-width="1"/>
<circle cx="562.5" cy="317.5" r="3.4" fill="#fe1f16" stroke="none" stroke-width="1"/>
<line x1="542.1" y1="222.5" x2="544.5" y2="222.5" stroke="#333" stroke-width="0.7"/>
<text x="540.2" y="224.8" font-size="9.2" text-anchor="end" fill="#333">Synapse</text>
<line x1="542.1" y1="242.3" x2="544.5" y2="242.3" stroke="#333" stroke-width="0.7"/>
<text x="540.2" y="245.0" font-size="9.2" text-anchor="end" fill="#333">Synaptic membrane</text>
<line x1="542.1" y1="270.1" x2="544.5" y2="270.1" stroke="#333" stroke-width="0.7"/>
<text x="540.2" y="267.6" font-size="9.2" text-anchor="end" fill="#333">Voltage-gated</text>
<text x="540.2" y="275.7" font-size="9.2" text-anchor="end" fill="#333">channel activity</text>
<line x1="542.1" y1="290.4" x2="544.5" y2="290.4" stroke="#333" stroke-width="0.7"/>
<text x="540.2" y="288.3" font-size="9.2" text-anchor="end" fill="#333">Calcium-activated</text>
<text x="540.2" y="296.5" font-size="9.2" text-anchor="end" fill="#333">K-channel activity</text>
<line x1="542.1" y1="317.5" x2="544.5" y2="317.5" stroke="#333" stroke-width="0.7"/>
<text x="540.2" y="319.9" font-size="9.2" text-anchor="end" fill="#333">Potassium channels</text>
<line x1="546.6" y1="329.4" x2="546.6" y2="331.79999999999995" stroke="#333" stroke-width="0.7"/>
<text x="546.6" y="337.8" font-size="8.6" text-anchor="middle" fill="#333">0</text>
<line x1="560.03" y1="329.4" x2="560.03" y2="331.79999999999995" stroke="#333" stroke-width="0.7"/>
<text x="560.03" y="337.8" font-size="8.6" text-anchor="middle" fill="#333">.05</text>
<line x1="573.46" y1="329.4" x2="573.46" y2="331.79999999999995" stroke="#333" stroke-width="0.7"/>
<text x="573.46" y="337.8" font-size="8.6" text-anchor="middle" fill="#333">.10</text>
<line x1="586.89" y1="329.4" x2="586.89" y2="331.79999999999995" stroke="#333" stroke-width="0.7"/>
<text x="586.89" y="337.8" font-size="8.6" text-anchor="middle" fill="#333">.15</text>
<line x1="600.32" y1="329.4" x2="600.32" y2="331.79999999999995" stroke="#333" stroke-width="0.7"/>
<text x="600.32" y="337.8" font-size="8.6" text-anchor="middle" fill="#333">.20</text>
<text x="578.25" y="350.7" font-size="10.45" text-anchor="middle" fill="#111">GeneRatio</text>
<text x="616.0" y="215.6" font-size="10" text-anchor="start" fill="#111">p-adj</text>
<rect x="621.9" y="221.1" width="10" height="50.400000000000006" fill="url(#pgrad)" stroke="none" stroke-width="1"/>
<line x1="621.9" y1="220.6" x2="623.9" y2="220.6" stroke="#fff" stroke-width="0.5"/>
<line x1="629.9" y1="220.6" x2="631.9" y2="220.6" stroke="#fff" stroke-width="0.5"/>
<text x="632.6999999999999" y="223.7" font-size="8.8" text-anchor="start" fill="#333">0.05</text>
<line x1="621.9" y1="231.0" x2="623.9" y2="231.0" stroke="#fff" stroke-width="0.5"/>
<line x1="629.9" y1="231.0" x2="631.9" y2="231.0" stroke="#fff" stroke-width="0.5"/>
<text x="632.6999999999999" y="234.1" font-size="8.8" text-anchor="start" fill="#333">0.04</text>
<line x1="621.9" y1="241.3" x2="623.9" y2="241.3" stroke="#fff" stroke-width="0.5"/>
<line x1="629.9" y1="241.3" x2="631.9" y2="241.3" stroke="#fff" stroke-width="0.5"/>
<text x="632.6999999999999" y="244.4" font-size="8.8" text-anchor="start" fill="#333">0.03</text>
<line x1="621.9" y1="251.5" x2="623.9" y2="251.5" stroke="#fff" stroke-width="0.5"/>
<line x1="629.9" y1="251.5" x2="631.9" y2="251.5" stroke="#fff" stroke-width="0.5"/>
<text x="632.6999999999999" y="254.6" font-size="8.8" text-anchor="start" fill="#333">0.02</text>
<line x1="621.9" y1="261.6" x2="623.9" y2="261.6" stroke="#fff" stroke-width="0.5"/>
<line x1="629.9" y1="261.6" x2="631.9" y2="261.6" stroke="#fff" stroke-width="0.5"/>
<text x="632.6999999999999" y="264.70000000000005" font-size="8.8" text-anchor="start" fill="#333">0.01</text>
<text x="616.0" y="290.8" font-size="10" text-anchor="start" fill="#111">Count</text>
<circle cx="628.6" cy="298.8" r="3.0" fill="#000" stroke="none" stroke-width="1"/>
<text x="636.4" y="301.90000000000003" font-size="8.8" text-anchor="start" fill="#333">5</text>
<circle cx="628.6" cy="309.3" r="4.2" fill="#000" stroke="none" stroke-width="1"/>
<text x="636.4" y="312.40000000000003" font-size="8.8" text-anchor="start" fill="#333">10</text>
<circle cx="628.6" cy="321.2" r="5.3" fill="#000" stroke="none" stroke-width="1"/>
<text x="636.4" y="324.3" font-size="8.8" text-anchor="start" fill="#333">15</text>
<text x="21.3" y="375.7" font-size="8.45" text-anchor="start" fill="#111">ChrX:40,369,300-40,492,275</text>
<rect x="22.1" y="381.1" width="8.799999999999997" height="8.399999999999977" fill="#f043d0" stroke="none" stroke-width="1"/>
<text x="33.0" y="388.9" font-size="8.1" font-weight="bold" text-anchor="start" fill="#111">Egr1</text>
<rect x="54.2" y="381.1" width="8.699999999999996" height="8.399999999999977" fill="#dcb4d6" stroke="none" stroke-width="1"/>
<text x="65.2" y="388.9" font-size="8.1" font-weight="bold" text-anchor="start" fill="#111">eGFP</text>
<rect x="89.2" y="381.1" width="8.700000000000003" height="8.399999999999977" fill="#d58ac6" stroke="none" stroke-width="1"/>
<text x="99.9" y="388.9" font-size="8.1" font-weight="bold" text-anchor="start" fill="#111">Overlap</text>
<rect x="22.3" y="440.2" width="9.0" height="8.100000000000023" fill="#33a0e0" stroke="none" stroke-width="1"/>
<text x="33.3" y="447.7" font-size="8.1" font-weight="bold" text-anchor="start" fill="#111">Egr1</text>
<rect x="54.7" y="440.2" width="8.699999999999996" height="8.100000000000023" fill="#b4cad6" stroke="none" stroke-width="1"/>
<text x="65.6" y="447.7" font-size="8.1" font-weight="bold" text-anchor="start" fill="#111">eGFP</text>
<rect x="89.7" y="440.2" width="9.299999999999997" height="8.100000000000023" fill="#87b1cb" stroke="none" stroke-width="1"/>
<text x="100.4" y="447.7" font-size="8.1" font-weight="bold" text-anchor="start" fill="#111">Overlap</text>
<polyline points="33.4,393.9 28.6,393.9 28.6,436.4 33.6,436.4" fill="none" stroke="#111" stroke-width="1.5"/>
<polyline points="113.10000000000001,393.9 117.4,393.9 117.4,436.4 113.0,436.4" fill="none" stroke="#111" stroke-width="1.5"/>
<text x="26.1" y="399.79999999999995" font-size="9" text-anchor="end" fill="#333">44</text>
<text x="25.9" y="436.9" font-size="9" text-anchor="end" fill="#333">0</text>
<text x="119.4" y="399.79999999999995" font-size="9" text-anchor="start" fill="#333">66</text>
<text x="119.6" y="436.9" font-size="9" text-anchor="start" fill="#333">0</text>
<text x="34.9" y="397.8" font-size="8.7" text-anchor="start" fill="#333">-120kb</text>
<text x="61.3" y="401.2" font-size="8.5" text-anchor="start" fill="#333">100bp</text>
<text x="99.1" y="401.5" font-size="8.5" text-anchor="start" fill="#333">1kb</text>
<line x1="66.9" y1="404.9" x2="70.8" y2="404.9" stroke="#111" stroke-width="1.6"/>
<line x1="101.3" y1="404.9" x2="110.0" y2="404.9" stroke="#111" stroke-width="1.6"/>
<circle cx="33.2" cy="408.0" r="2.0" fill="none" stroke="#111" stroke-width="1.0"/>
<line x1="33.2" y1="410.0" x2="33.2" y2="412.6" stroke="#111" stroke-width="1.0"/>
<line x1="31.6" y1="411.1" x2="34.800000000000004" y2="411.1" stroke="#111" stroke-width="1.0"/>
<polygon points="36.00,436.40 38.60,432.90 41.20,430.70 43.80,429.40 45.90,426.80 47.60,423.40 48.50,420.00 49.80,410.50 51.10,403.60 52.20,403.00 53.10,407.00 54.10,414.80 55.80,420.00 57.50,423.40 59.30,429.40 61.80,432.90 64.40,434.80 67.00,434.40 69.60,434.60 70.40,436.40" fill="#f043d0"/>
<polygon points="36.00,436.40 38.60,434.60 41.20,434.00 43.80,433.50 46.00,432.00 48.00,430.00 50.00,427.00 52.00,425.00 53.50,426.00 55.00,428.00 57.00,430.50 59.00,433.00 62.00,435.00 70.40,436.40" fill="#d58ac6"/>
<polygon points="75.00,436.40 75.20,433.70 77.20,434.20 78.90,432.00 80.60,430.30 81.90,425.10 82.80,418.20 83.60,406.20 84.50,402.30 85.10,409.60 86.20,410.90 87.30,412.20 88.40,423.40 89.60,427.70 90.90,420.80 92.20,406.20 93.10,414.80 94.40,423.40 96.10,427.70 97.80,429.40 99.50,425.10 101.30,428.60 103.40,432.00 105.60,422.50 106.90,427.70 108.60,429.40 109.90,429.90 109.90,436.40" fill="#f043d0"/>
<polygon points="75.00,436.40 75.55,435.30 76.85,435.80 79.25,433.60 80.25,431.90 82.25,426.70 82.45,419.80 83.95,407.80 84.15,403.90 85.45,411.20 85.85,412.50 87.65,413.80 88.05,425.00 89.95,429.30 90.55,422.40 92.55,407.80 92.75,416.40 94.75,425.00 95.75,429.30 98.15,431.00 99.15,426.70 101.65,430.20 103.05,433.60 105.95,424.10 106.55,429.30 108.95,431.00 109.55,431.50 109.90,436.40" fill="#d58ac6"/>
<rect x="44.3" y="400.1" width="15.3" height="36.3" fill="none" stroke="#a8a8a8" stroke-width="0.9"/>
<polyline points="33.3,452.0 28.5,452.0 28.5,494.4 33.5,494.4" fill="none" stroke="#111" stroke-width="1.5"/>
<polyline points="113.3,452.0 117.6,452.0 117.6,494.4 113.19999999999999,494.4" fill="none" stroke="#111" stroke-width="1.5"/>
<text x="26.1" y="457.9" font-size="9" text-anchor="end" fill="#333">44</text>
<text x="25.9" y="494.9" font-size="9" text-anchor="end" fill="#333">0</text>
<text x="119.4" y="457.9" font-size="9" text-anchor="start" fill="#333">66</text>
<text x="119.6" y="494.9" font-size="9" text-anchor="start" fill="#333">0</text>
<circle cx="33.1" cy="467.2" r="2.3" fill="none" stroke="#111" stroke-width="1.0"/>
<line x1="34.360460391815" y1="465.27613940196653" x2="35.74914485964717" y2="463.1565683721175" stroke="#111" stroke-width="1.0"/>
<polygon points="36.90,461.40 36.83,464.22 34.34,462.59" fill="#111"/>
<polygon points="36.00,494.30 38.60,492.40 40.80,491.10 42.90,491.60 45.10,488.60 47.20,485.10 48.90,481.70 50.20,476.10 51.50,475.70 52.50,477.00 54.10,480.00 55.80,483.40 57.50,486.80 58.80,491.10 61.00,491.60 62.70,492.00 65.30,492.90 67.00,492.20 70.40,494.30" fill="#33a0e0"/>
<polygon points="36.00,494.30 44.00,493.50 46.00,491.00 48.00,488.00 50.00,484.50 52.00,482.50 54.00,485.00 56.00,488.00 58.00,491.00 60.00,493.00 62.00,492.50 64.00,493.50 70.40,494.30" fill="#87b1cb"/>
<polygon points="75.40,494.40 75.40,492.90 77.20,491.60 78.90,490.30 80.60,489.90 81.60,485.10 82.80,474.80 83.90,463.60 84.50,458.00 85.30,467.90 86.20,471.40 87.10,466.20 87.90,472.20 89.00,482.50 90.10,483.80 91.40,477.40 92.50,464.50 93.30,462.70 94.20,476.50 95.70,486.00 97.40,486.40 99.50,481.20 101.30,485.10 103.40,486.80 105.60,477.80 106.90,483.40 108.60,486.80 110.70,488.60 110.70,494.40" fill="#33a0e0"/>
<polygon points="75.40,494.40 75.75,494.40 76.85,493.20 79.25,491.90 80.25,491.50 81.95,486.70 82.45,476.40 84.25,465.20 84.15,459.60 85.65,469.50 85.85,473.00 87.45,467.80 87.55,473.80 89.35,484.10 89.75,485.40 91.75,479.00 92.15,466.10 93.65,464.30 93.85,478.10 96.05,487.60 97.05,488.00 99.85,482.80 100.95,486.70 103.75,488.40 105.25,479.40 107.25,485.00 108.25,488.40 111.05,490.20 110.70,494.40" fill="#87b1cb"/>
<rect x="44.3" y="458.4" width="15.3" height="36.1" fill="none" stroke="#a8a8a8" stroke-width="0.9"/>
<text x="57.2" y="511.4" font-size="11" font-weight="bold" text-anchor="start" fill="#111">Gria3</text>
<rect x="88.3" y="506.5" width="6.1" height="3.0" fill="#1f1ff5" stroke="none" stroke-width="1"/>
<line x1="94.4" y1="508.0" x2="110.6" y2="508.0" stroke="#1f1ff5" stroke-width="1.3"/>
<line x1="94.9" y1="504.3" x2="94.9" y2="511.7" stroke="#1f1ff5" stroke-width="1.1"/>
<line x1="106.1" y1="504.3" x2="106.1" y2="511.7" stroke="#1f1ff5" stroke-width="1.1"/>
<polyline points="94.9,502.5 94.9,497.4 100.6,497.4" fill="none" stroke="#222" stroke-width="1.1"/>
<polygon points="100.3,495.6 103.0,497.4 100.3,499.2" fill="#222"/>
<line x1="177" y1="382.9" x2="177" y2="484.3" stroke="#9a9a9a" stroke-width="1.4"/>
<line x1="177" y1="484.3" x2="236.6" y2="484.3" stroke="#9a9a9a" stroke-width="1.1"/>
<line x1="238.4" y1="484.3" x2="298.4" y2="484.3" stroke="#9a9a9a" stroke-width="1.1"/>
<line x1="193.4" y1="484.3" x2="193.4" y2="486.3" stroke="#9a9a9a" stroke-width="0.8"/>
<line x1="220.65" y1="484.3" x2="220.65" y2="486.3" stroke="#9a9a9a" stroke-width="0.8"/>
<line x1="255.6" y1="484.3" x2="255.6" y2="486.3" stroke="#9a9a9a" stroke-width="0.8"/>
<line x1="282.5" y1="484.3" x2="282.5" y2="486.3" stroke="#9a9a9a" stroke-width="0.8"/>
<line x1="175.0" y1="405.6" x2="177" y2="405.6" stroke="#9a9a9a" stroke-width="0.8"/>
<text x="174.7" y="408.1" font-size="6.8" text-anchor="end" fill="#222">24000</text>
<line x1="175.0" y1="430.2" x2="177" y2="430.2" stroke="#9a9a9a" stroke-width="0.8"/>
<text x="174.7" y="432.7" font-size="6.8" text-anchor="end" fill="#222">20000</text>
<line x1="175.0" y1="454.8" x2="177" y2="454.8" stroke="#9a9a9a" stroke-width="0.8"/>
<text x="174.7" y="457.3" font-size="6.8" text-anchor="end" fill="#222">16000</text>
<line x1="175.0" y1="479.4" x2="177" y2="479.4" stroke="#9a9a9a" stroke-width="0.8"/>
<text x="174.7" y="481.9" font-size="6.8" text-anchor="end" fill="#222">12000</text>
<text x="152.4" y="439.4" font-size="9.15" text-anchor="middle" fill="#222" transform="rotate(-90 152.4 439.4)">Normalized Counts</text>
<text x="239.85" y="380.7" font-size="11.7" text-anchor="middle" fill="#111">Gria3</text>
<line x1="193.4" y1="461.2" x2="193.4" y2="465.2" stroke="#222" stroke-width="0.7"/>
<line x1="193.4" y1="469.6" x2="193.4" y2="470.7" stroke="#222" stroke-width="0.7"/>
<rect x="183" y="465.2" width="20.80000000000001" height="4.400000000000034" fill="#e2abd9" stroke="#222" stroke-width="0.7"/>
<line x1="183" y1="467.5" x2="203.8" y2="467.5" stroke="#222" stroke-width="1.2"/>
<circle cx="193.4" cy="470.7" r="0.8" fill="#111" stroke="none" stroke-width="1"/>
<circle cx="193.4" cy="461.2" r="0.8" fill="#111" stroke="none" stroke-width="1"/>
<circle cx="193.4" cy="467.5" r="0.8" fill="#111" stroke="none" stroke-width="1"/>
<line x1="220.65" y1="403.6" x2="220.65" y2="413" stroke="#222" stroke-width="0.7"/>
<line x1="220.65" y1="429.7" x2="220.65" y2="437.5" stroke="#222" stroke-width="0.7"/>
<rect x="210.3" y="413" width="20.69999999999999" height="16.69999999999999" fill="#f032d2" stroke="#222" stroke-width="0.7"/>
<line x1="210.3" y1="421.6" x2="231" y2="421.6" stroke="#222" stroke-width="1.2"/>
<circle cx="220.65" cy="437.5" r="0.8" fill="#111" stroke="none" stroke-width="1"/>
<circle cx="220.65" cy="403.6" r="0.8" fill="#111" stroke="none" stroke-width="1"/>
<circle cx="220.65" cy="421.6" r="0.8" fill="#111" stroke="none" stroke-width="1"/>
<line x1="255.6" y1="455.8" x2="255.6" y2="455.8" stroke="#222" stroke-width="0.7"/>
<line x1="255.6" y1="464.5" x2="255.6" y2="472.4" stroke="#222" stroke-width="0.7"/>
<rect x="245" y="455.8" width="21.19999999999999" height="8.699999999999989" fill="#a9c1d0" stroke="#222" stroke-width="0.7"/>
<line x1="245" y1="456.6" x2="266.2" y2="456.6" stroke="#222" stroke-width="1.2"/>
<circle cx="255.6" cy="472.4" r="0.8" fill="#111" stroke="none" stroke-width="1"/>
<circle cx="255.6" cy="455.8" r="0.8" fill="#111" stroke="none" stroke-width="1"/>
<circle cx="255.6" cy="456.6" r="0.8" fill="#111" stroke="none" stroke-width="1"/>
<line x1="282.5" y1="404.4" x2="282.5" y2="406.2" stroke="#222" stroke-width="0.7"/>
<line x1="282.5" y1="410.5" x2="282.5" y2="413" stroke="#222" stroke-width="0.7"/>
<rect x="272" y="406.2" width="21" height="4.300000000000011" fill="#2f8fd2" stroke="#222" stroke-width="0.7"/>
<line x1="272" y1="408.3" x2="293" y2="408.3" stroke="#222" stroke-width="1.2"/>
<circle cx="282.5" cy="413" r="0.8" fill="#111" stroke="none" stroke-width="1"/>
<circle cx="282.5" cy="404.4" r="0.8" fill="#111" stroke="none" stroke-width="1"/>
<circle cx="282.5" cy="408.3" r="0.8" fill="#111" stroke="none" stroke-width="1"/>
<line x1="189" y1="398.5" x2="224" y2="398.5" stroke="#333" stroke-width="1.0"/>
<line x1="252.2" y1="398.5" x2="286.9" y2="398.5" stroke="#333" stroke-width="1.0"/>
<polygon points="200.60,390.25 201.46,392.32 203.69,392.50 201.99,393.95 202.51,396.13 200.60,394.96 198.69,396.13 199.21,393.95 197.51,392.50 199.74,392.32" fill="#111"/>
<polygon points="206.40,390.25 207.26,392.32 209.49,392.50 207.79,393.95 208.31,396.13 206.40,394.96 204.49,396.13 205.01,393.95 203.31,392.50 205.54,392.32" fill="#111"/>
<polygon points="212.20,390.25 213.06,392.32 215.29,392.50 213.59,393.95 214.11,396.13 212.20,394.96 210.29,396.13 210.81,393.95 209.11,392.50 211.34,392.32" fill="#111"/>
<polygon points="263.60,390.25 264.46,392.32 266.69,392.50 264.99,393.95 265.51,396.13 263.60,394.96 261.69,396.13 262.21,393.95 260.51,392.50 262.74,392.32" fill="#111"/>
<polygon points="269.40,390.25 270.26,392.32 272.49,392.50 270.79,393.95 271.31,396.13 269.40,394.96 267.49,396.13 268.01,393.95 266.31,392.50 268.54,392.32" fill="#111"/>
<polygon points="275.20,390.25 276.06,392.32 278.29,392.50 276.59,393.95 277.11,396.13 275.20,394.96 273.29,396.13 273.81,393.95 272.11,392.50 274.34,392.32" fill="#111"/>
<text x="192.3" y="495.2" font-size="10.5" text-anchor="middle" fill="#111">eGFP</text>
<text x="220.25" y="495.2" font-size="10.5" text-anchor="middle" fill="#111">Egr1</text>
<text x="254.95" y="495.2" font-size="10.5" text-anchor="middle" fill="#111">eGFP</text>
<text x="282.3" y="495.2" font-size="10.5" text-anchor="middle" fill="#111">Egr1</text>
<text x="199.15" y="510.6" font-size="12.2" text-anchor="middle" fill="#db3ea6">OF</text>
<circle cx="215.85" cy="503.3" r="2.95" fill="none" stroke="#db3ea6" stroke-width="1.3"/>
<line x1="215.85" y1="506.25" x2="215.85" y2="510.7" stroke="#db3ea6" stroke-width="1.3"/>
<line x1="213.5" y1="508.5" x2="218.2" y2="508.5" stroke="#db3ea6" stroke-width="1.3"/>
<text x="261.1" y="510.0" font-size="11.8" text-anchor="middle" fill="#3563cf">M</text>
<circle cx="273.5" cy="506.8" r="2.95" fill="none" stroke="#3563cf" stroke-width="1.3"/>
<line x1="275.09020840444896" y1="504.31529936804856" x2="276.6828389107299" y2="501.8268142019846" stroke="#3563cf" stroke-width="1.3"/>
<polygon points="278.30,499.30 278.24,503.18 274.80,500.98" fill="#3563cf"/>
<defs>
<filter id="mot" x="0" y="0" width="100%" height="100%">
<feTurbulence type="fractalNoise" baseFrequency="0.09" numOctaves="3" seed="4" result="t"/>
<feColorMatrix in="t" type="matrix" values="0 0 0 0 1  0 0 0 0 1  0 0 0 0 1  1.6 0 0 0 -0.55"/>
</filter>
<filter id="mot2" x="0" y="0" width="100%" height="100%">
<feTurbulence type="fractalNoise" baseFrequency="0.07" numOctaves="3" seed="11" result="t"/>
<feColorMatrix in="t" type="matrix" values="0 0 0 0 0  0 0 0 0 0  0 0 0 0 0  0 1.6 0 0 -0.6"/>
</filter>
<filter id="blur06"><feGaussianBlur stdDeviation="0.45"/></filter>
<filter id="blur1"><feGaussianBlur stdDeviation="2"/></filter>
<filter id="grain" x="0" y="0" width="100%" height="100%">
<feTurbulence type="fractalNoise" baseFrequency="0.45" numOctaves="2" seed="8" result="t"/>
<feColorMatrix in="t" type="matrix" values="0 0 0 0 1  0 0 0 0 1  0 0 0 0 1  2.2 0 0 0 -0.95"/>
</filter>
<linearGradient id="darkR" x1="0" y1="0" x2="1" y2="0"><stop offset="0" stop-color="#000" stop-opacity="0"/><stop offset="1" stop-color="#000" stop-opacity="0.28"/></linearGradient>
<linearGradient id="lightL" x1="0" y1="0" x2="1" y2="0"><stop offset="0" stop-color="#fff" stop-opacity="0.18"/><stop offset="1" stop-color="#fff" stop-opacity="0"/></linearGradient>
</defs>
<text x="369.7" y="385.4" font-size="11.8" font-weight="bold" text-anchor="middle" fill="#1c2050">eGFP</text>
<text x="444.9" y="385.4" font-size="11.8" font-weight="bold" text-anchor="middle" fill="#1c2050">Egr1</text>
<circle cx="322.3" cy="417.85" r="3.45" fill="none" stroke="#111" stroke-width="1.5"/>
<line x1="322.3" y1="421.3" x2="322.3" y2="426.8" stroke="#111" stroke-width="1.5"/>
<line x1="319.7" y1="424.5" x2="324.90000000000003" y2="424.5" stroke="#111" stroke-width="1.5"/>
<circle cx="323.5" cy="481.5" r="3.45" fill="none" stroke="#111" stroke-width="1.5"/>
<line x1="325.34353675336206" y1="478.5838600446818" x2="327.23661701852325" y2="475.58935126160867" stroke="#111" stroke-width="1.5"/>
<polygon points="329.00,472.80 328.96,477.04 325.19,474.65" fill="#111"/>
<clipPath id="g1"><rect x="334.1" y="389.4" width="68.79999999999995" height="56.900000000000034"/></clipPath>
<g clip-path="url(#g1)">
<rect x="334.1" y="389.4" width="68.79999999999995" height="56.900000000000034" fill="#9a9a9a" stroke="none" stroke-width="1"/>
<rect x="334.1" y="389.4" width="68.79999999999995" height="56.900000000000034" fill="#fff" stroke="none" stroke-width="1" filter="url(#mot)" opacity="0.42"/>
<rect x="334.1" y="389.4" width="68.79999999999995" height="56.900000000000034" fill="#000" stroke="none" stroke-width="1" filter="url(#mot2)" opacity="0.4"/>
<rect x="334.1" y="389.4" width="68.79999999999995" height="56.900000000000034" fill="#fff" stroke="none" stroke-width="1" filter="url(#grain)" opacity="0.3"/>

<g filter="url(#blur06)">
<circle cx="333.0" cy="413.3" r="1.05" fill="#141414" stroke="none" stroke-width="1"/>
<circle cx="333.8" cy="413.1" r="1.17" fill="#141414" stroke="none" stroke-width="1"/>
<circle cx="334.6" cy="412.9" r="1.1" fill="#141414" stroke="none" stroke-width="1"/>
<circle cx="335.12" cy="412.54" r="1.21" fill="#141414" stroke="none" stroke-width="1"/>
<circle cx="335.64" cy="412.19" r="1.23" fill="#141414" stroke="none" stroke-width="1"/>
<circle cx="336.17" cy="411.83" r="1.01" fill="#141414" stroke="none" stroke-width="1"/>
<circle cx="336.69" cy="411.48" r="1.01" fill="#141414" stroke="none" stroke-width="1"/>
<circle cx="337.21" cy="411.12" r="1.35" fill="#141414" stroke="none" stroke-width="1"/>
<circle cx="337.73" cy="410.77" r="1.13" fill="#141414" stroke="none" stroke-width="1"/>
<circle cx="338.26" cy="410.41" r="1.13" fill="#141414" stroke="none" stroke-width="1"/>
<circle cx="338.78" cy="410.06" r="1.45" fill="#141414" stroke="none" stroke-width="1"/>
<circle cx="339.3" cy="409.7" r="1.25" fill="#141414" stroke="none" stroke-width="1"/>
<circle cx="339.93" cy="409.65" r="1.38" fill="#141414" stroke="none" stroke-width="1"/>
<circle cx="340.56" cy="409.6" r="1.21" fill="#141414" stroke="none" stroke-width="1"/>
<circle cx="341.19" cy="409.55" r="1.26" fill="#141414" stroke="none" stroke-width="1"/>
<circle cx="341.82" cy="409.5" r="1.05" fill="#141414" stroke="none" stroke-width="1"/>
<circle cx="342.45" cy="409.45" r="1.22" fill="#141414" stroke="none" stroke-width="1"/>
<circle cx="343.08" cy="409.4" r="1.3" fill="#141414" stroke="none" stroke-width="1"/>
<circle cx="343.71" cy="409.35" r="1.14" fill="#141414" stroke="none" stroke-width="1"/>
<circle cx="344.34" cy="409.3" r="1.21" fill="#141414" stroke="none" stroke-width="1"/>
<circle cx="344.97" cy="409.25" r="1.17" fill="#141414" stroke="none" stroke-width="1"/>
<circle cx="345.6" cy="409.2" r="0.91" fill="#141414" stroke="none" stroke-width="1"/>
<circle cx="346.17" cy="408.96" r="1.18" fill="#141414" stroke="none" stroke-width="1"/>
<circle cx="346.75" cy="408.73" r="1.12" fill="#141414" stroke="none" stroke-width="1"/>
<circle cx="347.32" cy="408.49" r="1.0" fill="#141414" stroke="none" stroke-width="1"/>
<circle cx="347.89" cy="408.25" r="0.89" fill="#141414" stroke="none" stroke-width="1"/>
<circle cx="348.46" cy="408.02" r="1.23" fill="#141414" stroke="none" stroke-width="1"/>
<circle cx="349.04" cy="407.78" r="1.07" fill="#141414" stroke="none" stroke-width="1"/>
<circle cx="349.61" cy="407.55" r="1.17" fill="#141414" stroke="none" stroke-width="1"/>
<circle cx="350.18" cy="407.31" r="1.23" fill="#141414" stroke="none" stroke-width="1"/>
<circle cx="350.75" cy="407.07" r="1.17" fill="#141414" stroke="none" stroke-width="1"/>
<circle cx="351.33" cy="406.84" r="1.25" fill="#141414" stroke="none" stroke-width="1"/>
<circle cx="351.9" cy="406.6" r="1.04" fill="#141414" stroke="none" stroke-width="1"/>
<circle cx="352.52" cy="406.49" r="1.22" fill="#141414" stroke="none" stroke-width="1"/>
<circle cx="353.13" cy="406.38" r="1.11" fill="#141414" stroke="none" stroke-width="1"/>
<circle cx="353.75" cy="406.28" r="1.33" fill="#141414" stroke="none" stroke-width="1"/>
<circle cx="354.37" cy="406.17" r="1.33" fill="#141414" stroke="none" stroke-width="1"/>
<circle cx="354.98" cy="406.06" r="1.04" fill="#141414" stroke="none" stroke-width="1"/>
<circle cx="355.6" cy="405.95" r="1.08" fill="#141414" stroke="none" stroke-width="1"/>
<circle cx="356.22" cy="405.84" r="1.13" fill="#141414" stroke="none" stroke-width="1"/>
<circle cx="356.83" cy="405.73" r="1.46" fill="#141414" stroke="none" stroke-width="1"/>
<circle cx="357.45" cy="405.62" r="1.27" fill="#141414" stroke="none" stroke-width="1"/>
<circle cx="358.07" cy="405.52" r="1.37" fill="#141414" stroke="none" stroke-width="1"/>
<circle cx="358.68" cy="405.41" r="1.26" fill="#141414" stroke="none" stroke-width="1"/>
<circle cx="359.3" cy="405.3" r="1.37" fill="#141414" stroke="none" stroke-width="1"/>
<circle cx="359.88" cy="405.5" r="1.29" fill="#141414" stroke="none" stroke-width="1"/>
<circle cx="360.46" cy="405.7" r="1.24" fill="#141414" stroke="none" stroke-width="1"/>
<circle cx="361.03" cy="405.9" r="1.31" fill="#141414" stroke="none" stroke-width="1"/>
<circle cx="361.61" cy="406.1" r="1.27" fill="#141414" stroke="none" stroke-width="1"/>
<circle cx="362.19" cy="406.3" r="1.37" fill="#141414" stroke="none" stroke-width="1"/>
<circle cx="362.77" cy="406.5" r="1.25" fill="#141414" stroke="none" stroke-width="1"/>
<circle cx="363.34" cy="406.7" r="1.32" fill="#141414" stroke="none" stroke-width="1"/>
<circle cx="363.92" cy="406.9" r="1.25" fill="#141414" stroke="none" stroke-width="1"/>
<circle cx="364.5" cy="407.1" r="1.28" fill="#141414" stroke="none" stroke-width="1"/>
<circle cx="365.07" cy="407.29" r="1.14" fill="#141414" stroke="none" stroke-width="1"/>
<circle cx="365.65" cy="407.48" r="0.93" fill="#141414" stroke="none" stroke-width="1"/>
<circle cx="366.22" cy="407.67" r="1.2" fill="#141414" stroke="none" stroke-width="1"/>
<circle cx="366.79" cy="407.86" r="1.24" fill="#141414" stroke="none" stroke-width="1"/>
<circle cx="367.36" cy="408.05" r="1.21" fill="#141414" stroke="none" stroke-width="1"/>
<circle cx="367.94" cy="408.25" r="1.07" fill="#141414" stroke="none" stroke-width="1"/>
<circle cx="368.51" cy="408.44" r="1.12" fill="#141414" stroke="none" stroke-width="1"/>
<circle cx="369.08" cy="408.63" r="0.91" fill="#141414" stroke="none" stroke-width="1"/>
<circle cx="369.65" cy="408.82" r="1.15" fill="#141414" stroke="none" stroke-width="1"/>
<circle cx="370.23" cy="409.01" r="1.04" fill="#141414" stroke="none" stroke-width="1"/>
<circle cx="370.8" cy="409.2" r="0.92" fill="#141414" stroke="none" stroke-width="1"/>
<circle cx="371.43" cy="409.34" r="0.83" fill="#141414" stroke="none" stroke-width="1"/>
<circle cx="372.06" cy="409.48" r="1.14" fill="#141414" stroke="none" stroke-width="1"/>
<circle cx="372.69" cy="409.62" r="1.18" fill="#141414" stroke="none" stroke-width="1"/>
<circle cx="373.32" cy="409.76" r="0.81" fill="#141414" stroke="none" stroke-width="1"/>
<circle cx="373.95" cy="409.9" r="1.09" fill="#141414" stroke="none" stroke-width="1"/>
<circle cx="374.58" cy="410.04" r="0.93" fill="#141414" stroke="none" stroke-width="1"/>
<circle cx="375.21" cy="410.18" r="0.82" fill="#141414" stroke="none" stroke-width="1"/>
<circle cx="375.84" cy="410.32" r="0.87" fill="#141414" stroke="none" stroke-width="1"/>
<circle cx="376.47" cy="410.46" r="1.05" fill="#141414" stroke="none" stroke-width="1"/>
<circle cx="377.1" cy="410.6" r="1.09" fill="#141414" stroke="none" stroke-width="1"/>
<circle cx="377.71" cy="410.65" r="0.75" fill="#141414" stroke="none" stroke-width="1"/>
<circle cx="378.31" cy="410.7" r="0.98" fill="#141414" stroke="none" stroke-width="1"/>
<circle cx="378.92" cy="410.75" r="0.75" fill="#141414" stroke="none" stroke-width="1"/>
<circle cx="379.53" cy="410.8" r="1.02" fill="#141414" stroke="none" stroke-width="1"/>
<circle cx="380.14" cy="410.85" r="0.87" fill="#141414" stroke="none" stroke-width="1"/>
<circle cx="380.74" cy="410.9" r="1.09" fill="#141414" stroke="none" stroke-width="1"/>
<circle cx="381.35" cy="410.95" r="1.13" fill="#141414" stroke="none" stroke-width="1"/>
<circle cx="381.96" cy="411.0" r="0.94" fill="#141414" stroke="none" stroke-width="1"/>
<circle cx="382.56" cy="411.05" r="1.14" fill="#141414" stroke="none" stroke-width="1"/>
<circle cx="383.17" cy="411.1" r="0.86" fill="#141414" stroke="none" stroke-width="1"/>
<circle cx="383.78" cy="411.15" r="0.77" fill="#141414" stroke="none" stroke-width="1"/>
<circle cx="384.39" cy="411.2" r="0.98" fill="#141414" stroke="none" stroke-width="1"/>
<circle cx="384.99" cy="411.25" r="0.75" fill="#141414" stroke="none" stroke-width="1"/>
<circle cx="385.6" cy="411.3" r="0.81" fill="#141414" stroke="none" stroke-width="1"/>
<circle cx="386.21" cy="411.26" r="0.91" fill="#141414" stroke="none" stroke-width="1"/>
<circle cx="386.82" cy="411.22" r="0.99" fill="#141414" stroke="none" stroke-width="1"/>
<circle cx="387.43" cy="411.18" r="0.82" fill="#141414" stroke="none" stroke-width="1"/>
<circle cx="388.03" cy="411.13" r="0.78" fill="#141414" stroke="none" stroke-width="1"/>
<circle cx="388.64" cy="411.09" r="1.11" fill="#141414" stroke="none" stroke-width="1"/>
<circle cx="389.25" cy="411.05" r="0.9" fill="#141414" stroke="none" stroke-width="1"/>
<circle cx="389.86" cy="411.01" r="1.16" fill="#141414" stroke="none" stroke-width="1"/>
<circle cx="390.47" cy="410.97" r="1.14" fill="#141414" stroke="none" stroke-width="1"/>
<circle cx="391.07" cy="410.93" r="0.94" fill="#141414" stroke="none" stroke-width="1"/>
<circle cx="391.68" cy="410.88" r="0.98" fill="#141414" stroke="none" stroke-width="1"/>
<circle cx="392.29" cy="410.84" r="1.01" fill="#141414" stroke="none" stroke-width="1"/>
<circle cx="392.9" cy="410.8" r="1.07" fill="#141414" stroke="none" stroke-width="1"/>
<circle cx="393.53" cy="410.64" r="1.05" fill="#141414" stroke="none" stroke-width="1"/>
<circle cx="394.16" cy="410.48" r="1.03" fill="#141414" stroke="none" stroke-width="1"/>
<circle cx="394.79" cy="410.32" r="1.06" fill="#141414" stroke="none" stroke-width="1"/>
<circle cx="395.42" cy="410.16" r="1.18" fill="#141414" stroke="none" stroke-width="1"/>
<circle cx="396.05" cy="410.0" r="1.01" fill="#141414" stroke="none" stroke-width="1"/>
<circle cx="396.68" cy="409.84" r="0.98" fill="#141414" stroke="none" stroke-width="1"/>
<circle cx="397.31" cy="409.68" r="1.1" fill="#141414" stroke="none" stroke-width="1"/>
<circle cx="397.94" cy="409.52" r="0.9" fill="#141414" stroke="none" stroke-width="1"/>
<circle cx="398.57" cy="409.36" r="0.93" fill="#141414" stroke="none" stroke-width="1"/>
<circle cx="399.2" cy="409.2" r="1.2" fill="#141414" stroke="none" stroke-width="1"/>
<circle cx="399.57" cy="408.67" r="1.01" fill="#141414" stroke="none" stroke-width="1"/>
<circle cx="399.94" cy="408.14" r="1.01" fill="#141414" stroke="none" stroke-width="1"/>
<circle cx="400.31" cy="407.61" r="0.78" fill="#141414" stroke="none" stroke-width="1"/>
<circle cx="400.69" cy="407.09" r="0.93" fill="#141414" stroke="none" stroke-width="1"/>
<circle cx="401.06" cy="406.56" r="0.99" fill="#141414" stroke="none" stroke-width="1"/>
<circle cx="401.43" cy="406.03" r="0.75" fill="#141414" stroke="none" stroke-width="1"/>
<circle cx="401.8" cy="405.5" r="0.98" fill="#141414" stroke="none" stroke-width="1"/>
<circle cx="402.14" cy="405.0" r="0.98" fill="#141414" stroke="none" stroke-width="1"/>
<circle cx="402.48" cy="404.5" r="0.75" fill="#141414" stroke="none" stroke-width="1"/>
<circle cx="402.82" cy="404.0" r="0.97" fill="#141414" stroke="none" stroke-width="1"/>
<circle cx="403.16" cy="403.5" r="0.89" fill="#141414" stroke="none" stroke-width="1"/>
<circle cx="382.53" cy="413.35" r="1.09" fill="#2a2a2a" stroke="none" stroke-width="1"/>
<circle cx="336.2" cy="414.28" r="1.27" fill="#2a2a2a" stroke="none" stroke-width="1"/>
<circle cx="344.68" cy="409.24" r="0.76" fill="#2a2a2a" stroke="none" stroke-width="1"/>
<circle cx="356.45" cy="407.72" r="0.98" fill="#2a2a2a" stroke="none" stroke-width="1"/>
<circle cx="349.12" cy="408.97" r="0.52" fill="#2a2a2a" stroke="none" stroke-width="1"/>
<circle cx="373.13" cy="407.75" r="0.68" fill="#2a2a2a" stroke="none" stroke-width="1"/>
<circle cx="395.86" cy="411.85" r="0.85" fill="#2a2a2a" stroke="none" stroke-width="1"/>
<circle cx="387.71" cy="412.42" r="0.77" fill="#2a2a2a" stroke="none" stroke-width="1"/>
<circle cx="395.29" cy="410.64" r="0.64" fill="#2a2a2a" stroke="none" stroke-width="1"/>
<circle cx="352.77" cy="403.46" r="0.86" fill="#2a2a2a" stroke="none" stroke-width="1"/>
<circle cx="347.17" cy="411.17" r="0.65" fill="#2a2a2a" stroke="none" stroke-width="1"/>
<circle cx="396.91" cy="408.52" r="0.72" fill="#2a2a2a" stroke="none" stroke-width="1"/>
<circle cx="394.12" cy="407.67" r="0.78" fill="#2a2a2a" stroke="none" stroke-width="1"/>
<circle cx="336.99" cy="413.78" r="0.72" fill="#2a2a2a" stroke="none" stroke-width="1"/>
<circle cx="353.59" cy="407.11" r="0.83" fill="#2a2a2a" stroke="none" stroke-width="1"/>
<circle cx="402.5" cy="406.79" r="1.25" fill="#2a2a2a" stroke="none" stroke-width="1"/>
<circle cx="402.6" cy="407.39" r="1.26" fill="#2a2a2a" stroke="none" stroke-width="1"/>
<circle cx="402.38" cy="408.11" r="1.17" fill="#2a2a2a" stroke="none" stroke-width="1"/>
<circle cx="380.5" cy="410.81" r="0.77" fill="#2a2a2a" stroke="none" stroke-width="1"/>
<circle cx="347.99" cy="410.44" r="0.73" fill="#2a2a2a" stroke="none" stroke-width="1"/>
<circle cx="399.33" cy="410.84" r="1.05" fill="#2a2a2a" stroke="none" stroke-width="1"/>
<circle cx="404.28" cy="403.6" r="0.96" fill="#2a2a2a" stroke="none" stroke-width="1"/>
<circle cx="333.22" cy="411.29" r="0.74" fill="#2a2a2a" stroke="none" stroke-width="1"/>
<circle cx="380.25" cy="410.7" r="1.25" fill="#2a2a2a" stroke="none" stroke-width="1"/>
<circle cx="375.8" cy="412.14" r="1.19" fill="#2a2a2a" stroke="none" stroke-width="1"/>
<circle cx="366.23" cy="405.37" r="0.66" fill="#2a2a2a" stroke="none" stroke-width="1"/>
</g>
</g>
<clipPath id="g2"><rect x="410.1" y="389.6" width="68.79999999999995" height="56.69999999999999"/></clipPath>
<g clip-path="url(#g2)">
<rect x="410.1" y="389.6" width="68.79999999999995" height="56.69999999999999" fill="#a0a0a0" stroke="none" stroke-width="1"/>
<rect x="410.1" y="389.6" width="68.79999999999995" height="56.69999999999999" fill="#fff" stroke="none" stroke-width="1" filter="url(#mot)" opacity="0.42"/>
<rect x="410.1" y="389.6" width="68.79999999999995" height="56.69999999999999" fill="#000" stroke="none" stroke-width="1" filter="url(#mot2)" opacity="0.4"/>
<rect x="410.1" y="389.6" width="68.79999999999995" height="56.69999999999999" fill="#fff" stroke="none" stroke-width="1" filter="url(#grain)" opacity="0.3"/>
<rect x="445" y="389.6" width="34" height="57" fill="url(#darkR)"/><ellipse cx="479" cy="443" rx="6" ry="9" fill="#000" opacity="0.35"/>
<g filter="url(#blur06)">
<circle cx="409.0" cy="437.3" r="0.84" fill="#141414" stroke="none" stroke-width="1"/>
<circle cx="409.65" cy="436.8" r="0.89" fill="#141414" stroke="none" stroke-width="1"/>
<circle cx="410.3" cy="436.3" r="0.91" fill="#141414" stroke="none" stroke-width="1"/>
<circle cx="410.79" cy="435.94" r="0.96" fill="#141414" stroke="none" stroke-width="1"/>
<circle cx="411.29" cy="435.57" r="0.88" fill="#141414" stroke="none" stroke-width="1"/>
<circle cx="411.78" cy="435.21" r="0.95" fill="#141414" stroke="none" stroke-width="1"/>
<circle cx="412.27" cy="434.84" r="0.58" fill="#141414" stroke="none" stroke-width="1"/>
<circle cx="412.76" cy="434.48" r="0.75" fill="#141414" stroke="none" stroke-width="1"/>
<circle cx="413.26" cy="434.11" r="0.94" fill="#141414" stroke="none" stroke-width="1"/>
<circle cx="413.75" cy="433.75" r="0.82" fill="#141414" stroke="none" stroke-width="1"/>
<circle cx="414.24" cy="433.39" r="0.91" fill="#141414" stroke="none" stroke-width="1"/>
<circle cx="414.74" cy="433.02" r="0.59" fill="#141414" stroke="none" stroke-width="1"/>
<circle cx="415.23" cy="432.66" r="0.73" fill="#141414" stroke="none" stroke-width="1"/>
<circle cx="415.72" cy="432.29" r="0.63" fill="#141414" stroke="none" stroke-width="1"/>
<circle cx="416.21" cy="431.93" r="0.75" fill="#141414" stroke="none" stroke-width="1"/>
<circle cx="416.71" cy="431.56" r="0.75" fill="#141414" stroke="none" stroke-width="1"/>
<circle cx="417.2" cy="431.2" r="0.53" fill="#141414" stroke="none" stroke-width="1"/>
<circle cx="417.66" cy="430.77" r="0.61" fill="#141414" stroke="none" stroke-width="1"/>
<circle cx="418.12" cy="430.35" r="0.63" fill="#141414" stroke="none" stroke-width="1"/>
<circle cx="418.58" cy="429.92" r="0.89" fill="#141414" stroke="none" stroke-width="1"/>
<circle cx="419.04" cy="429.49" r="0.83" fill="#141414" stroke="none" stroke-width="1"/>
<circle cx="419.5" cy="429.07" r="0.58" fill="#141414" stroke="none" stroke-width="1"/>
<circle cx="419.96" cy="428.64" r="0.84" fill="#141414" stroke="none" stroke-width="1"/>
<circle cx="420.42" cy="428.21" r="0.58" fill="#141414" stroke="none" stroke-width="1"/>
<circle cx="420.88" cy="427.79" r="0.77" fill="#141414" stroke="none" stroke-width="1"/>
<circle cx="421.34" cy="427.36" r="0.57" fill="#141414" stroke="none" stroke-width="1"/>
<circle cx="421.8" cy="426.93" r="0.52" fill="#141414" stroke="none" stroke-width="1"/>
<circle cx="422.26" cy="426.51" r="0.87" fill="#141414" stroke="none" stroke-width="1"/>
<circle cx="422.72" cy="426.08" r="0.6" fill="#141414" stroke="none" stroke-width="1"/>
<circle cx="423.18" cy="425.65" r="0.61" fill="#141414" stroke="none" stroke-width="1"/>
<circle cx="423.64" cy="425.23" r="0.91" fill="#141414" stroke="none" stroke-width="1"/>
<circle cx="424.1" cy="424.8" r="0.87" fill="#141414" stroke="none" stroke-width="1"/>
<circle cx="424.53" cy="424.38" r="0.64" fill="#141414" stroke="none" stroke-width="1"/>
<circle cx="424.95" cy="423.95" r="0.91" fill="#141414" stroke="none" stroke-width="1"/>
<circle cx="425.38" cy="423.53" r="0.75" fill="#141414" stroke="none" stroke-width="1"/>
<circle cx="425.8" cy="423.1" r="0.81" fill="#141414" stroke="none" stroke-width="1"/>
<circle cx="426.23" cy="422.68" r="0.62" fill="#141414" stroke="none" stroke-width="1"/>
<circle cx="426.65" cy="422.25" r="0.92" fill="#141414" stroke="none" stroke-width="1"/>
<circle cx="427.07" cy="421.82" r="0.83" fill="#141414" stroke="none" stroke-width="1"/>
<circle cx="427.5" cy="421.4" r="0.94" fill="#141414" stroke="none" stroke-width="1"/>
<circle cx="427.93" cy="420.98" r="0.92" fill="#141414" stroke="none" stroke-width="1"/>
<circle cx="428.35" cy="420.55" r="0.68" fill="#141414" stroke="none" stroke-width="1"/>
<circle cx="428.77" cy="420.12" r="0.71" fill="#141414" stroke="none" stroke-width="1"/>
<circle cx="429.2" cy="419.7" r="0.64" fill="#141414" stroke="none" stroke-width="1"/>
<circle cx="429.62" cy="419.27" r="0.64" fill="#141414" stroke="none" stroke-width="1"/>
<circle cx="430.05" cy="418.85" r="0.61" fill="#141414" stroke="none" stroke-width="1"/>
<circle cx="430.47" cy="418.43" r="0.71" fill="#141414" stroke="none" stroke-width="1"/>
<circle cx="430.9" cy="418.0" r="0.83" fill="#141414" stroke="none" stroke-width="1"/>
<circle cx="431.36" cy="417.61" r="0.59" fill="#141414" stroke="none" stroke-width="1"/>
<circle cx="431.82" cy="417.23" r="0.85" fill="#141414" stroke="none" stroke-width="1"/>
<circle cx="432.28" cy="416.84" r="0.71" fill="#141414" stroke="none" stroke-width="1"/>
<circle cx="432.74" cy="416.45" r="0.7" fill="#141414" stroke="none" stroke-width="1"/>
<circle cx="433.2" cy="416.07" r="0.9" fill="#141414" stroke="none" stroke-width="1"/>
<circle cx="433.66" cy="415.68" r="0.76" fill="#141414" stroke="none" stroke-width="1"/>
<circle cx="434.12" cy="415.29" r="0.68" fill="#141414" stroke="none" stroke-width="1"/>
<circle cx="434.58" cy="414.91" r="0.75" fill="#141414" stroke="none" stroke-width="1"/>
<circle cx="435.04" cy="414.52" r="0.83" fill="#141414" stroke="none" stroke-width="1"/>
<circle cx="435.5" cy="414.13" r="0.57" fill="#141414" stroke="none" stroke-width="1"/>
<circle cx="435.96" cy="413.75" r="0.93" fill="#141414" stroke="none" stroke-width="1"/>
<circle cx="436.42" cy="413.36" r="0.54" fill="#141414" stroke="none" stroke-width="1"/>
<circle cx="436.88" cy="412.97" r="0.83" fill="#141414" stroke="none" stroke-width="1"/>
<circle cx="437.34" cy="412.59" r="0.86" fill="#141414" stroke="none" stroke-width="1"/>
<circle cx="437.8" cy="412.2" r="0.53" fill="#141414" stroke="none" stroke-width="1"/>
<circle cx="438.29" cy="411.79" r="0.84" fill="#141414" stroke="none" stroke-width="1"/>
<circle cx="438.79" cy="411.39" r="0.68" fill="#141414" stroke="none" stroke-width="1"/>
<circle cx="439.28" cy="410.98" r="0.77" fill="#141414" stroke="none" stroke-width="1"/>
<circle cx="439.77" cy="410.57" r="0.54" fill="#141414" stroke="none" stroke-width="1"/>
<circle cx="440.26" cy="410.16" r="0.56" fill="#141414" stroke="none" stroke-width="1"/>
<circle cx="440.76" cy="409.76" r="0.62" fill="#141414" stroke="none" stroke-width="1"/>
<circle cx="441.25" cy="409.35" r="0.94" fill="#141414" stroke="none" stroke-width="1"/>
<circle cx="441.74" cy="408.94" r="0.64" fill="#141414" stroke="none" stroke-width="1"/>
<circle cx="442.24" cy="408.54" r="0.87" fill="#141414" stroke="none" stroke-width="1"/>
<circle cx="442.73" cy="408.13" r="0.94" fill="#141414" stroke="none" stroke-width="1"/>
<circle cx="443.22" cy="407.72" r="0.95" fill="#141414" stroke="none" stroke-width="1"/>
<circle cx="443.71" cy="407.31" r="0.72" fill="#141414" stroke="none" stroke-width="1"/>
<circle cx="444.21" cy="406.91" r="0.73" fill="#141414" stroke="none" stroke-width="1"/>
<circle cx="444.7" cy="406.5" r="0.8" fill="#141414" stroke="none" stroke-width="1"/>
<circle cx="445.19" cy="406.09" r="0.9" fill="#141414" stroke="none" stroke-width="1"/>
<circle cx="445.69" cy="405.69" r="0.64" fill="#141414" stroke="none" stroke-width="1"/>
<circle cx="446.18" cy="405.28" r="0.89" fill="#141414" stroke="none" stroke-width="1"/>
<circle cx="446.67" cy="404.87" r="0.91" fill="#141414" stroke="none" stroke-width="1"/>
<circle cx="447.16" cy="404.46" r="0.94" fill="#141414" stroke="none" stroke-width="1"/>
<circle cx="447.66" cy="404.06" r="0.61" fill="#141414" stroke="none" stroke-width="1"/>
<circle cx="448.15" cy="403.65" r="0.97" fill="#141414" stroke="none" stroke-width="1"/>
<circle cx="448.64" cy="403.24" r="0.63" fill="#141414" stroke="none" stroke-width="1"/>
<circle cx="449.14" cy="402.84" r="0.73" fill="#141414" stroke="none" stroke-width="1"/>
<circle cx="449.63" cy="402.43" r="0.84" fill="#141414" stroke="none" stroke-width="1"/>
<circle cx="450.12" cy="402.02" r="0.96" fill="#141414" stroke="none" stroke-width="1"/>
<circle cx="450.61" cy="401.61" r="0.73" fill="#141414" stroke="none" stroke-width="1"/>
<circle cx="451.11" cy="401.21" r="0.96" fill="#141414" stroke="none" stroke-width="1"/>
<circle cx="451.6" cy="400.8" r="0.81" fill="#141414" stroke="none" stroke-width="1"/>
<circle cx="452.06" cy="400.41" r="0.73" fill="#141414" stroke="none" stroke-width="1"/>
<circle cx="452.52" cy="400.03" r="0.74" fill="#141414" stroke="none" stroke-width="1"/>
<circle cx="452.98" cy="399.64" r="0.69" fill="#141414" stroke="none" stroke-width="1"/>
<circle cx="453.44" cy="399.25" r="0.66" fill="#141414" stroke="none" stroke-width="1"/>
<circle cx="453.9" cy="398.87" r="0.7" fill="#141414" stroke="none" stroke-width="1"/>
<circle cx="454.36" cy="398.48" r="0.93" fill="#141414" stroke="none" stroke-width="1"/>
<circle cx="454.82" cy="398.09" r="1.06" fill="#141414" stroke="none" stroke-width="1"/>
<circle cx="455.28" cy="397.71" r="0.73" fill="#141414" stroke="none" stroke-width="1"/>
<circle cx="455.74" cy="397.32" r="0.7" fill="#141414" stroke="none" stroke-width="1"/>
<circle cx="456.2" cy="396.93" r="1.08" fill="#141414" stroke="none" stroke-width="1"/>
<circle cx="456.66" cy="396.55" r="0.91" fill="#141414" stroke="none" stroke-width="1"/>
<circle cx="457.12" cy="396.16" r="0.87" fill="#141414" stroke="none" stroke-width="1"/>
<circle cx="457.58" cy="395.77" r="0.81" fill="#141414" stroke="none" stroke-width="1"/>
<circle cx="458.04" cy="395.39" r="0.96" fill="#141414" stroke="none" stroke-width="1"/>
<circle cx="458.5" cy="395.0" r="1.07" fill="#141414" stroke="none" stroke-width="1"/>
<circle cx="459.02" cy="394.64" r="0.92" fill="#141414" stroke="none" stroke-width="1"/>
<circle cx="459.54" cy="394.27" r="0.9" fill="#141414" stroke="none" stroke-width="1"/>
<circle cx="460.05" cy="393.91" r="0.76" fill="#141414" stroke="none" stroke-width="1"/>
<circle cx="460.57" cy="393.55" r="1.1" fill="#141414" stroke="none" stroke-width="1"/>
<circle cx="461.09" cy="393.18" r="0.75" fill="#141414" stroke="none" stroke-width="1"/>
<circle cx="461.61" cy="392.82" r="0.93" fill="#141414" stroke="none" stroke-width="1"/>
<circle cx="462.13" cy="392.45" r="1.07" fill="#141414" stroke="none" stroke-width="1"/>
<circle cx="462.65" cy="392.09" r="0.79" fill="#141414" stroke="none" stroke-width="1"/>
<circle cx="463.16" cy="391.73" r="1.03" fill="#141414" stroke="none" stroke-width="1"/>
<circle cx="463.68" cy="391.36" r="1.12" fill="#141414" stroke="none" stroke-width="1"/>
<circle cx="464.2" cy="391.0" r="0.99" fill="#141414" stroke="none" stroke-width="1"/>
<circle cx="464.86" cy="390.84" r="1.04" fill="#141414" stroke="none" stroke-width="1"/>
<circle cx="465.51" cy="390.69" r="0.76" fill="#141414" stroke="none" stroke-width="1"/>
<circle cx="466.17" cy="390.53" r="0.88" fill="#141414" stroke="none" stroke-width="1"/>
<circle cx="466.83" cy="390.37" r="0.75" fill="#141414" stroke="none" stroke-width="1"/>
<circle cx="467.49" cy="390.21" r="1.02" fill="#141414" stroke="none" stroke-width="1"/>
<circle cx="468.14" cy="390.06" r="0.79" fill="#141414" stroke="none" stroke-width="1"/>
<circle cx="468.8" cy="389.9" r="0.85" fill="#141414" stroke="none" stroke-width="1"/>
<circle cx="469.44" cy="389.72" r="1.05" fill="#141414" stroke="none" stroke-width="1"/>
<circle cx="470.08" cy="389.54" r="0.98" fill="#141414" stroke="none" stroke-width="1"/>
<circle cx="470.72" cy="389.36" r="1.01" fill="#141414" stroke="none" stroke-width="1"/>
<circle cx="471.36" cy="389.18" r="0.79" fill="#141414" stroke="none" stroke-width="1"/>
<circle cx="440.0" cy="407.39" r="0.73" fill="#2a2a2a" stroke="none" stroke-width="1"/>
<circle cx="435.44" cy="417.39" r="1.29" fill="#2a2a2a" stroke="none" stroke-width="1"/>
<circle cx="468.49" cy="387.25" r="0.77" fill="#2a2a2a" stroke="none" stroke-width="1"/>
<circle cx="409.73" cy="440.2" r="1.19" fill="#2a2a2a" stroke="none" stroke-width="1"/>
<circle cx="431.58" cy="414.48" r="1.06" fill="#2a2a2a" stroke="none" stroke-width="1"/>
<circle cx="453.84" cy="396.63" r="1.06" fill="#2a2a2a" stroke="none" stroke-width="1"/>
<circle cx="420.95" cy="424.53" r="1.05" fill="#2a2a2a" stroke="none" stroke-width="1"/>
<circle cx="428.83" cy="422.1" r="0.96" fill="#2a2a2a" stroke="none" stroke-width="1"/>
<circle cx="407.25" cy="436.59" r="1.04" fill="#2a2a2a" stroke="none" stroke-width="1"/>
<circle cx="439.79" cy="408.63" r="1.14" fill="#2a2a2a" stroke="none" stroke-width="1"/>
<circle cx="427.46" cy="416.3" r="1.16" fill="#2a2a2a" stroke="none" stroke-width="1"/>
<circle cx="432.16" cy="415.57" r="1.05" fill="#2a2a2a" stroke="none" stroke-width="1"/>
<circle cx="474.11" cy="388.41" r="0.92" fill="#2a2a2a" stroke="none" stroke-width="1"/>
<circle cx="418.33" cy="428.25" r="0.88" fill="#2a2a2a" stroke="none" stroke-width="1"/>
<circle cx="455.07" cy="393.63" r="0.64" fill="#2a2a2a" stroke="none" stroke-width="1"/>
<circle cx="458.6" cy="390.87" r="0.84" fill="#2a2a2a" stroke="none" stroke-width="1"/>
<circle cx="451.17" cy="398.24" r="1.08" fill="#2a2a2a" stroke="none" stroke-width="1"/>
<circle cx="410.83" cy="439.27" r="1.02" fill="#2a2a2a" stroke="none" stroke-width="1"/>
<circle cx="418.74" cy="425.57" r="0.53" fill="#2a2a2a" stroke="none" stroke-width="1"/>
<circle cx="439.27" cy="412.31" r="0.61" fill="#2a2a2a" stroke="none" stroke-width="1"/>
<circle cx="428.15" cy="423.0" r="0.53" fill="#2a2a2a" stroke="none" stroke-width="1"/>
<circle cx="436.28" cy="413.71" r="0.97" fill="#2a2a2a" stroke="none" stroke-width="1"/>
<circle cx="422.28" cy="426.68" r="0.82" fill="#2a2a2a" stroke="none" stroke-width="1"/>
<circle cx="423.34" cy="425.12" r="1.17" fill="#2a2a2a" stroke="none" stroke-width="1"/>
<circle cx="434.9" cy="418.09" r="0.58" fill="#2a2a2a" stroke="none" stroke-width="1"/>
<circle cx="443.04" cy="409.13" r="1.27" fill="#2a2a2a" stroke="none" stroke-width="1"/>
<circle cx="460.52" cy="393.05" r="1.01" fill="#2a2a2a" stroke="none" stroke-width="1"/>
<circle cx="433.38" cy="420.16" r="0.95" fill="#2a2a2a" stroke="none" stroke-width="1"/>
<circle cx="473.82" cy="388.75" r="0.78" fill="#2a2a2a" stroke="none" stroke-width="1"/>
<circle cx="469.7" cy="390.1" r="0.95" fill="#2a2a2a" stroke="none" stroke-width="1"/>
<circle cx="452.13" cy="404.73" r="1.21" fill="#2a2a2a" stroke="none" stroke-width="1"/>
<circle cx="430.09" cy="418.02" r="0.73" fill="#2a2a2a" stroke="none" stroke-width="1"/>
<circle cx="467.64" cy="392.47" r="1.23" fill="#2a2a2a" stroke="none" stroke-width="1"/>
<circle cx="448.24" cy="407.97" r="0.9" fill="#2a2a2a" stroke="none" stroke-width="1"/>
<circle cx="432.88" cy="418.9" r="0.89" fill="#2a2a2a" stroke="none" stroke-width="1"/>
<circle cx="423.7" cy="423.99" r="1.0" fill="#2a2a2a" stroke="none" stroke-width="1"/>
<circle cx="435.91" cy="416.68" r="1.16" fill="#2a2a2a" stroke="none" stroke-width="1"/>
<circle cx="407.15" cy="436.73" r="1.25" fill="#2a2a2a" stroke="none" stroke-width="1"/>
<circle cx="461.99" cy="394.86" r="0.62" fill="#2a2a2a" stroke="none" stroke-width="1"/>
<circle cx="470.7" cy="392.38" r="0.88" fill="#2a2a2a" stroke="none" stroke-width="1"/>
<circle cx="449.25" cy="397.96" r="0.59" fill="#2a2a2a" stroke="none" stroke-width="1"/>
<circle cx="459.57" cy="396.6" r="0.77" fill="#2a2a2a" stroke="none" stroke-width="1"/>
<circle cx="423.28" cy="422.5" r="0.79" fill="#2a2a2a" stroke="none" stroke-width="1"/>
<circle cx="458.41" cy="393.45" r="0.7" fill="#2a2a2a" stroke="none" stroke-width="1"/>
<circle cx="441.51" cy="410.03" r="0.94" fill="#2a2a2a" stroke="none" stroke-width="1"/>
<circle cx="409.68" cy="434.54" r="0.96" fill="#2a2a2a" stroke="none" stroke-width="1"/>
<circle cx="455.14" cy="394.12" r="1.23" fill="#2a2a2a" stroke="none" stroke-width="1"/>
<circle cx="429.32" cy="419.23" r="0.66" fill="#2a2a2a" stroke="none" stroke-width="1"/>
<circle cx="426.47" cy="421.94" r="1.17" fill="#2a2a2a" stroke="none" stroke-width="1"/>
<circle cx="454.08" cy="397.96" r="1.12" fill="#2a2a2a" stroke="none" stroke-width="1"/>
<circle cx="470.68" cy="392.17" r="0.94" fill="#2a2a2a" stroke="none" stroke-width="1"/>
<circle cx="440.32" cy="410.85" r="0.97" fill="#2a2a2a" stroke="none" stroke-width="1"/>
<circle cx="465.74" cy="392.17" r="1.16" fill="#2a2a2a" stroke="none" stroke-width="1"/>
<circle cx="461.82" cy="390.97" r="1.08" fill="#2a2a2a" stroke="none" stroke-width="1"/>
<circle cx="474.97" cy="389.17" r="0.54" fill="#2a2a2a" stroke="none" stroke-width="1"/>
<circle cx="466.1" cy="394.27" r="1.26" fill="#2a2a2a" stroke="none" stroke-width="1"/>
<circle cx="458.8" cy="397.56" r="1.23" fill="#2a2a2a" stroke="none" stroke-width="1"/>
<circle cx="412.77" cy="431.34" r="0.63" fill="#2a2a2a" stroke="none" stroke-width="1"/>
<circle cx="451.97" cy="402.08" r="0.8" fill="#2a2a2a" stroke="none" stroke-width="1"/>
<circle cx="413.0" cy="437.63" r="1.09" fill="#2a2a2a" stroke="none" stroke-width="1"/>
<circle cx="469.15" cy="392.4" r="0.75" fill="#2a2a2a" stroke="none" stroke-width="1"/>
<circle cx="444.39" cy="403.36" r="0.8" fill="#2a2a2a" stroke="none" stroke-width="1"/>
<circle cx="409.26" cy="435.13" r="1.01" fill="#2a2a2a" stroke="none" stroke-width="1"/>
<circle cx="444.23" cy="407.38" r="1.0" fill="#2a2a2a" stroke="none" stroke-width="1"/>
<circle cx="421.57" cy="424.86" r="1.1" fill="#2a2a2a" stroke="none" stroke-width="1"/>
<circle cx="443.77" cy="409.66" r="0.8" fill="#2a2a2a" stroke="none" stroke-width="1"/>
<circle cx="460.76" cy="398.08" r="1.02" fill="#2a2a2a" stroke="none" stroke-width="1"/>
<circle cx="409.51" cy="435.12" r="0.6" fill="#2a2a2a" stroke="none" stroke-width="1"/>
<circle cx="448.69" cy="407.7" r="0.88" fill="#2a2a2a" stroke="none" stroke-width="1"/>
<circle cx="428.2" cy="419.96" r="1.08" fill="#2a2a2a" stroke="none" stroke-width="1"/>
</g>
</g>
<clipPath id="g3"><rect x="334.1" y="452.4" width="68.79999999999995" height="56.200000000000045"/></clipPath>
<g clip-path="url(#g3)">
<rect x="334.1" y="452.4" width="68.79999999999995" height="56.200000000000045" fill="#9c9c9c" stroke="none" stroke-width="1"/>
<rect x="334.1" y="452.4" width="68.79999999999995" height="56.200000000000045" fill="#fff" stroke="none" stroke-width="1" filter="url(#mot)" opacity="0.42"/>
<rect x="334.1" y="452.4" width="68.79999999999995" height="56.200000000000045" fill="#000" stroke="none" stroke-width="1" filter="url(#mot2)" opacity="0.4"/>
<rect x="334.1" y="452.4" width="68.79999999999995" height="56.200000000000045" fill="#fff" stroke="none" stroke-width="1" filter="url(#grain)" opacity="0.3"/>

<g filter="url(#blur06)">
<circle cx="333.0" cy="453.6" r="1.01" fill="#141414" stroke="none" stroke-width="1"/>
<circle cx="333.57" cy="453.93" r="0.94" fill="#141414" stroke="none" stroke-width="1"/>
<circle cx="334.13" cy="454.27" r="1.14" fill="#141414" stroke="none" stroke-width="1"/>
<circle cx="334.7" cy="454.6" r="0.91" fill="#141414" stroke="none" stroke-width="1"/>
<circle cx="335.13" cy="455.03" r="1.09" fill="#141414" stroke="none" stroke-width="1"/>
<circle cx="335.57" cy="455.45" r="1.03" fill="#141414" stroke="none" stroke-width="1"/>
<circle cx="336.0" cy="455.88" r="0.9" fill="#141414" stroke="none" stroke-width="1"/>
<circle cx="336.43" cy="456.3" r="1.08" fill="#141414" stroke="none" stroke-width="1"/>
<circle cx="336.87" cy="456.73" r="0.89" fill="#141414" stroke="none" stroke-width="1"/>
<circle cx="337.3" cy="457.15" r="1.05" fill="#141414" stroke="none" stroke-width="1"/>
<circle cx="337.73" cy="457.57" r="0.91" fill="#141414" stroke="none" stroke-width="1"/>
<circle cx="338.17" cy="458.0" r="0.92" fill="#141414" stroke="none" stroke-width="1"/>
<circle cx="338.6" cy="458.43" r="1.05" fill="#141414" stroke="none" stroke-width="1"/>
<circle cx="339.03" cy="458.85" r="1.21" fill="#141414" stroke="none" stroke-width="1"/>
<circle cx="339.47" cy="459.27" r="0.93" fill="#141414" stroke="none" stroke-width="1"/>
<circle cx="339.9" cy="459.7" r="0.97" fill="#141414" stroke="none" stroke-width="1"/>
<circle cx="340.43" cy="460.02" r="1.14" fill="#141414" stroke="none" stroke-width="1"/>
<circle cx="340.96" cy="460.33" r="1.27" fill="#141414" stroke="none" stroke-width="1"/>
<circle cx="341.49" cy="460.65" r="1.13" fill="#141414" stroke="none" stroke-width="1"/>
<circle cx="342.02" cy="460.96" r="1.06" fill="#141414" stroke="none" stroke-width="1"/>
<circle cx="342.55" cy="461.28" r="1.3" fill="#141414" stroke="none" stroke-width="1"/>
<circle cx="343.08" cy="461.59" r="0.93" fill="#141414" stroke="none" stroke-width="1"/>
<circle cx="343.62" cy="461.91" r="1.26" fill="#141414" stroke="none" stroke-width="1"/>
<circle cx="344.15" cy="462.22" r="1.04" fill="#141414" stroke="none" stroke-width="1"/>
<circle cx="344.68" cy="462.54" r="0.99" fill="#141414" stroke="none" stroke-width="1"/>
<circle cx="345.21" cy="462.85" r="0.98" fill="#141414" stroke="none" stroke-width="1"/>
<circle cx="345.74" cy="463.17" r="1.06" fill="#141414" stroke="none" stroke-width="1"/>
<circle cx="346.27" cy="463.48" r="1.27" fill="#141414" stroke="none" stroke-width="1"/>
<circle cx="346.8" cy="463.8" r="1.02" fill="#141414" stroke="none" stroke-width="1"/>
<circle cx="347.32" cy="464.16" r="1.24" fill="#141414" stroke="none" stroke-width="1"/>
<circle cx="347.84" cy="464.53" r="1.33" fill="#141414" stroke="none" stroke-width="1"/>
<circle cx="348.35" cy="464.89" r="1.28" fill="#141414" stroke="none" stroke-width="1"/>
<circle cx="348.87" cy="465.25" r="1.41" fill="#141414" stroke="none" stroke-width="1"/>
<circle cx="349.39" cy="465.62" r="1.27" fill="#141414" stroke="none" stroke-width="1"/>
<circle cx="349.91" cy="465.98" r="1.33" fill="#141414" stroke="none" stroke-width="1"/>
<circle cx="350.43" cy="466.35" r="1.45" fill="#141414" stroke="none" stroke-width="1"/>
<circle cx="350.95" cy="466.71" r="1.7" fill="#141414" stroke="none" stroke-width="1"/>
<circle cx="351.46" cy="467.07" r="1.65" fill="#141414" stroke="none" stroke-width="1"/>
<circle cx="351.98" cy="467.44" r="1.67" fill="#141414" stroke="none" stroke-width="1"/>
<circle cx="352.5" cy="467.8" r="1.83" fill="#141414" stroke="none" stroke-width="1"/>
<circle cx="353.02" cy="468.11" r="1.81" fill="#141414" stroke="none" stroke-width="1"/>
<circle cx="353.54" cy="468.42" r="1.79" fill="#141414" stroke="none" stroke-width="1"/>
<circle cx="354.05" cy="468.73" r="2.02" fill="#141414" stroke="none" stroke-width="1"/>
<circle cx="354.57" cy="469.04" r="2.01" fill="#141414" stroke="none" stroke-width="1"/>
<circle cx="355.09" cy="469.35" r="1.86" fill="#141414" stroke="none" stroke-width="1"/>
<circle cx="355.61" cy="469.65" r="2.03" fill="#141414" stroke="none" stroke-width="1"/>
<circle cx="356.13" cy="469.96" r="2.04" fill="#141414" stroke="none" stroke-width="1"/>
<circle cx="356.65" cy="470.27" r="2.21" fill="#141414" stroke="none" stroke-width="1"/>
<circle cx="357.16" cy="470.58" r="2.19" fill="#141414" stroke="none" stroke-width="1"/>
<circle cx="357.68" cy="470.89" r="2.04" fill="#141414" stroke="none" stroke-width="1"/>
<circle cx="358.2" cy="471.2" r="2.35" fill="#141414" stroke="none" stroke-width="1"/>
<circle cx="358.61" cy="471.65" r="1.96" fill="#141414" stroke="none" stroke-width="1"/>
<circle cx="359.03" cy="472.1" r="2.02" fill="#141414" stroke="none" stroke-width="1"/>
<circle cx="359.44" cy="472.55" r="2.11" fill="#141414" stroke="none" stroke-width="1"/>
<circle cx="359.86" cy="473.0" r="1.82" fill="#141414" stroke="none" stroke-width="1"/>
<circle cx="360.27" cy="473.45" r="1.9" fill="#141414" stroke="none" stroke-width="1"/>
<circle cx="360.69" cy="473.9" r="1.67" fill="#141414" stroke="none" stroke-width="1"/>
<circle cx="361.1" cy="474.35" r="1.87" fill="#141414" stroke="none" stroke-width="1"/>
<circle cx="361.51" cy="474.8" r="1.85" fill="#141414" stroke="none" stroke-width="1"/>
<circle cx="361.93" cy="475.25" r="1.73" fill="#141414" stroke="none" stroke-width="1"/>
<circle cx="362.34" cy="475.7" r="1.8" fill="#141414" stroke="none" stroke-width="1"/>
<circle cx="362.76" cy="476.15" r="1.52" fill="#141414" stroke="none" stroke-width="1"/>
<circle cx="363.17" cy="476.6" r="1.62" fill="#141414" stroke="none" stroke-width="1"/>
<circle cx="363.59" cy="477.05" r="1.53" fill="#141414" stroke="none" stroke-width="1"/>
<circle cx="364.0" cy="477.5" r="1.47" fill="#141414" stroke="none" stroke-width="1"/>
<circle cx="364.52" cy="477.85" r="1.42" fill="#141414" stroke="none" stroke-width="1"/>
<circle cx="365.05" cy="478.21" r="1.58" fill="#141414" stroke="none" stroke-width="1"/>
<circle cx="365.57" cy="478.56" r="1.62" fill="#141414" stroke="none" stroke-width="1"/>
<circle cx="366.09" cy="478.92" r="1.43" fill="#141414" stroke="none" stroke-width="1"/>
<circle cx="366.62" cy="479.27" r="1.51" fill="#141414" stroke="none" stroke-width="1"/>
<circle cx="367.14" cy="479.62" r="1.26" fill="#141414" stroke="none" stroke-width="1"/>
<circle cx="367.66" cy="479.98" r="1.52" fill="#141414" stroke="none" stroke-width="1"/>
<circle cx="368.18" cy="480.33" r="1.5" fill="#141414" stroke="none" stroke-width="1"/>
<circle cx="368.71" cy="480.68" r="1.64" fill="#141414" stroke="none" stroke-width="1"/>
<circle cx="369.23" cy="481.04" r="1.57" fill="#141414" stroke="none" stroke-width="1"/>
<circle cx="369.75" cy="481.39" r="1.35" fill="#141414" stroke="none" stroke-width="1"/>
<circle cx="370.28" cy="481.75" r="1.39" fill="#141414" stroke="none" stroke-width="1"/>
<circle cx="370.8" cy="482.1" r="1.51" fill="#141414" stroke="none" stroke-width="1"/>
<circle cx="371.38" cy="482.39" r="1.25" fill="#141414" stroke="none" stroke-width="1"/>
<circle cx="371.95" cy="482.68" r="1.42" fill="#141414" stroke="none" stroke-width="1"/>
<circle cx="372.52" cy="482.98" r="1.31" fill="#141414" stroke="none" stroke-width="1"/>
<circle cx="373.1" cy="483.27" r="1.29" fill="#141414" stroke="none" stroke-width="1"/>
<circle cx="373.68" cy="483.56" r="1.26" fill="#141414" stroke="none" stroke-width="1"/>
<circle cx="374.25" cy="483.85" r="1.55" fill="#141414" stroke="none" stroke-width="1"/>
<circle cx="374.82" cy="484.14" r="1.29" fill="#141414" stroke="none" stroke-width="1"/>
<circle cx="375.4" cy="484.43" r="1.34" fill="#141414" stroke="none" stroke-width="1"/>
<circle cx="375.98" cy="484.73" r="1.4" fill="#141414" stroke="none" stroke-width="1"/>
<circle cx="376.55" cy="485.02" r="1.59" fill="#141414" stroke="none" stroke-width="1"/>
<circle cx="377.12" cy="485.31" r="1.27" fill="#141414" stroke="none" stroke-width="1"/>
<circle cx="377.7" cy="485.6" r="1.42" fill="#141414" stroke="none" stroke-width="1"/>
<circle cx="378.16" cy="486.0" r="1.46" fill="#141414" stroke="none" stroke-width="1"/>
<circle cx="378.62" cy="486.4" r="1.59" fill="#141414" stroke="none" stroke-width="1"/>
<circle cx="379.08" cy="486.8" r="1.57" fill="#141414" stroke="none" stroke-width="1"/>
<circle cx="379.54" cy="487.2" r="1.59" fill="#141414" stroke="none" stroke-width="1"/>
<circle cx="380.0" cy="487.6" r="1.35" fill="#141414" stroke="none" stroke-width="1"/>
<circle cx="380.46" cy="488.0" r="1.41" fill="#141414" stroke="none" stroke-width="1"/>
<circle cx="380.92" cy="488.4" r="1.38" fill="#141414" stroke="none" stroke-width="1"/>
<circle cx="381.38" cy="488.8" r="1.59" fill="#141414" stroke="none" stroke-width="1"/>
<circle cx="381.84" cy="489.2" r="1.62" fill="#141414" stroke="none" stroke-width="1"/>
<circle cx="382.3" cy="489.6" r="1.3" fill="#141414" stroke="none" stroke-width="1"/>
<circle cx="382.72" cy="490.06" r="1.34" fill="#141414" stroke="none" stroke-width="1"/>
<circle cx="383.14" cy="490.53" r="1.4" fill="#141414" stroke="none" stroke-width="1"/>
<circle cx="383.55" cy="490.99" r="1.43" fill="#141414" stroke="none" stroke-width="1"/>
<circle cx="383.97" cy="491.45" r="1.56" fill="#141414" stroke="none" stroke-width="1"/>
<circle cx="384.39" cy="491.92" r="1.64" fill="#141414" stroke="none" stroke-width="1"/>
<circle cx="384.81" cy="492.38" r="1.54" fill="#141414" stroke="none" stroke-width="1"/>
<circle cx="385.23" cy="492.85" r="1.47" fill="#141414" stroke="none" stroke-width="1"/>
<circle cx="385.65" cy="493.31" r="1.67" fill="#141414" stroke="none" stroke-width="1"/>
<circle cx="386.06" cy="493.77" r="1.68" fill="#141414" stroke="none" stroke-width="1"/>
<circle cx="386.48" cy="494.24" r="1.79" fill="#141414" stroke="none" stroke-width="1"/>
<circle cx="386.9" cy="494.7" r="1.98" fill="#141414" stroke="none" stroke-width="1"/>
<circle cx="387.36" cy="495.16" r="1.91" fill="#141414" stroke="none" stroke-width="1"/>
<circle cx="387.82" cy="495.62" r="1.88" fill="#141414" stroke="none" stroke-width="1"/>
<circle cx="388.28" cy="496.08" r="1.96" fill="#141414" stroke="none" stroke-width="1"/>
<circle cx="388.74" cy="496.54" r="2.01" fill="#141414" stroke="none" stroke-width="1"/>
<circle cx="389.2" cy="497.0" r="1.8" fill="#141414" stroke="none" stroke-width="1"/>
<circle cx="389.66" cy="497.46" r="2.18" fill="#141414" stroke="none" stroke-width="1"/>
<circle cx="390.12" cy="497.92" r="2.16" fill="#141414" stroke="none" stroke-width="1"/>
<circle cx="390.58" cy="498.38" r="2.24" fill="#141414" stroke="none" stroke-width="1"/>
<circle cx="391.04" cy="498.84" r="2.24" fill="#141414" stroke="none" stroke-width="1"/>
<circle cx="391.5" cy="499.3" r="2.12" fill="#141414" stroke="none" stroke-width="1"/>
<circle cx="391.98" cy="499.73" r="2.09" fill="#141414" stroke="none" stroke-width="1"/>
<circle cx="392.45" cy="500.17" r="1.94" fill="#141414" stroke="none" stroke-width="1"/>
<circle cx="392.93" cy="500.6" r="2.12" fill="#141414" stroke="none" stroke-width="1"/>
<circle cx="393.4" cy="501.03" r="1.86" fill="#141414" stroke="none" stroke-width="1"/>
<circle cx="393.88" cy="501.47" r="1.84" fill="#141414" stroke="none" stroke-width="1"/>
<circle cx="394.35" cy="501.9" r="1.86" fill="#141414" stroke="none" stroke-width="1"/>
<circle cx="394.82" cy="502.33" r="1.81" fill="#141414" stroke="none" stroke-width="1"/>
<circle cx="395.3" cy="502.77" r="1.86" fill="#141414" stroke="none" stroke-width="1"/>
<circle cx="395.77" cy="503.2" r="1.71" fill="#141414" stroke="none" stroke-width="1"/>
<circle cx="396.25" cy="503.63" r="1.66" fill="#141414" stroke="none" stroke-width="1"/>
<circle cx="396.72" cy="504.07" r="1.69" fill="#141414" stroke="none" stroke-width="1"/>
<circle cx="397.2" cy="504.5" r="1.64" fill="#141414" stroke="none" stroke-width="1"/>
<circle cx="397.71" cy="504.88" r="1.73" fill="#141414" stroke="none" stroke-width="1"/>
<circle cx="398.22" cy="505.26" r="1.57" fill="#141414" stroke="none" stroke-width="1"/>
<circle cx="398.73" cy="505.63" r="1.89" fill="#141414" stroke="none" stroke-width="1"/>
<circle cx="399.24" cy="506.01" r="1.77" fill="#141414" stroke="none" stroke-width="1"/>
<circle cx="399.76" cy="506.39" r="1.56" fill="#141414" stroke="none" stroke-width="1"/>
<circle cx="400.27" cy="506.77" r="1.58" fill="#141414" stroke="none" stroke-width="1"/>
<circle cx="400.78" cy="507.14" r="1.6" fill="#141414" stroke="none" stroke-width="1"/>
<circle cx="401.29" cy="507.52" r="1.59" fill="#141414" stroke="none" stroke-width="1"/>
<circle cx="401.8" cy="507.9" r="1.47" fill="#141414" stroke="none" stroke-width="1"/>
<circle cx="402.35" cy="508.3" r="1.71" fill="#141414" stroke="none" stroke-width="1"/>
<circle cx="402.9" cy="508.7" r="1.73" fill="#141414" stroke="none" stroke-width="1"/>
<circle cx="403.45" cy="509.1" r="1.47" fill="#141414" stroke="none" stroke-width="1"/>
<circle cx="371.15" cy="482.19" r="0.77" fill="#2a2a2a" stroke="none" stroke-width="1"/>
<circle cx="351.74" cy="464.93" r="0.52" fill="#2a2a2a" stroke="none" stroke-width="1"/>
<circle cx="399.99" cy="507.95" r="0.93" fill="#2a2a2a" stroke="none" stroke-width="1"/>
<circle cx="330.24" cy="453.37" r="1.19" fill="#2a2a2a" stroke="none" stroke-width="1"/>
<circle cx="385.54" cy="496.14" r="0.63" fill="#2a2a2a" stroke="none" stroke-width="1"/>
<circle cx="386.64" cy="497.59" r="0.76" fill="#2a2a2a" stroke="none" stroke-width="1"/>
<circle cx="348.84" cy="460.98" r="1.18" fill="#2a2a2a" stroke="none" stroke-width="1"/>
<circle cx="394.99" cy="496.71" r="0.68" fill="#2a2a2a" stroke="none" stroke-width="1"/>
<circle cx="371.24" cy="484.59" r="0.52" fill="#2a2a2a" stroke="none" stroke-width="1"/>
<circle cx="351.83" cy="470.43" r="1.27" fill="#2a2a2a" stroke="none" stroke-width="1"/>
<circle cx="369.44" cy="477.17" r="1.26" fill="#2a2a2a" stroke="none" stroke-width="1"/>
<circle cx="359.45" cy="475.26" r="0.66" fill="#2a2a2a" stroke="none" stroke-width="1"/>
<circle cx="343.49" cy="460.91" r="1.17" fill="#2a2a2a" stroke="none" stroke-width="1"/>
<circle cx="366.78" cy="477.83" r="0.57" fill="#2a2a2a" stroke="none" stroke-width="1"/>
<circle cx="386.45" cy="488.95" r="1.1" fill="#2a2a2a" stroke="none" stroke-width="1"/>
<circle cx="370.26" cy="483.91" r="0.77" fill="#2a2a2a" stroke="none" stroke-width="1"/>
<circle cx="396.44" cy="499.73" r="0.82" fill="#2a2a2a" stroke="none" stroke-width="1"/>
<circle cx="401.95" cy="505.75" r="0.6" fill="#2a2a2a" stroke="none" stroke-width="1"/>
<circle cx="343.27" cy="458.42" r="0.62" fill="#2a2a2a" stroke="none" stroke-width="1"/>
<circle cx="399.04" cy="501.74" r="0.78" fill="#2a2a2a" stroke="none" stroke-width="1"/>
<circle cx="376.88" cy="485.97" r="1.28" fill="#2a2a2a" stroke="none" stroke-width="1"/>
<circle cx="378.93" cy="489.44" r="0.85" fill="#2a2a2a" stroke="none" stroke-width="1"/>
<circle cx="399.49" cy="502.6" r="0.7" fill="#2a2a2a" stroke="none" stroke-width="1"/>
<circle cx="353.3" cy="471.81" r="0.71" fill="#2a2a2a" stroke="none" stroke-width="1"/>
<circle cx="366.5" cy="480.19" r="0.78" fill="#2a2a2a" stroke="none" stroke-width="1"/>
<circle cx="363.52" cy="477.5" r="0.84" fill="#2a2a2a" stroke="none" stroke-width="1"/>
<circle cx="397.54" cy="507.35" r="0.92" fill="#2a2a2a" stroke="none" stroke-width="1"/>
<circle cx="331.71" cy="454.55" r="0.5" fill="#2a2a2a" stroke="none" stroke-width="1"/>
<circle cx="394.42" cy="503.77" r="1.08" fill="#2a2a2a" stroke="none" stroke-width="1"/>
<circle cx="374.86" cy="487.56" r="0.94" fill="#2a2a2a" stroke="none" stroke-width="1"/>
<circle cx="394.25" cy="501.45" r="0.7" fill="#2a2a2a" stroke="none" stroke-width="1"/>
<circle cx="352.16" cy="464.72" r="0.95" fill="#2a2a2a" stroke="none" stroke-width="1"/>
<circle cx="392.73" cy="495.87" r="0.99" fill="#2a2a2a" stroke="none" stroke-width="1"/>
<circle cx="367.96" cy="482.11" r="0.86" fill="#2a2a2a" stroke="none" stroke-width="1"/>
<circle cx="370.17" cy="484.27" r="1.06" fill="#2a2a2a" stroke="none" stroke-width="1"/>
<circle cx="401.27" cy="504.35" r="0.95" fill="#2a2a2a" stroke="none" stroke-width="1"/>
<circle cx="403.6" cy="506.1" r="0.6" fill="#2a2a2a" stroke="none" stroke-width="1"/>
<circle cx="367.52" cy="479.46" r="0.56" fill="#2a2a2a" stroke="none" stroke-width="1"/>
<circle cx="384.82" cy="487.79" r="0.62" fill="#2a2a2a" stroke="none" stroke-width="1"/>
<circle cx="385.53" cy="492.46" r="1.21" fill="#2a2a2a" stroke="none" stroke-width="1"/>
</g>
</g>
<clipPath id="g4"><rect x="410.1" y="452.4" width="69.19999999999999" height="56.200000000000045"/></clipPath>
<g clip-path="url(#g4)">
<rect x="410.1" y="452.4" width="69.19999999999999" height="56.200000000000045" fill="#a2a2a2" stroke="none" stroke-width="1"/>
<rect x="410.1" y="452.4" width="69.19999999999999" height="56.200000000000045" fill="#fff" stroke="none" stroke-width="1" filter="url(#mot)" opacity="0.42"/>
<rect x="410.1" y="452.4" width="69.19999999999999" height="56.200000000000045" fill="#000" stroke="none" stroke-width="1" filter="url(#mot2)" opacity="0.4"/>
<rect x="410.1" y="452.4" width="69.19999999999999" height="56.200000000000045" fill="#fff" stroke="none" stroke-width="1" filter="url(#grain)" opacity="0.3"/>
<ellipse cx="413" cy="453" rx="8" ry="5" fill="#000" opacity="0.45" filter="url(#blur1)"/><rect x="410.1" y="452.4" width="30" height="56.2" fill="url(#lightL)"/>
<g filter="url(#blur06)">
<circle cx="409.5" cy="507.0" r="1.43" fill="#141414" stroke="none" stroke-width="1"/>
<circle cx="409.98" cy="506.5" r="1.39" fill="#141414" stroke="none" stroke-width="1"/>
<circle cx="410.45" cy="506.0" r="1.3" fill="#141414" stroke="none" stroke-width="1"/>
<circle cx="410.92" cy="505.5" r="1.59" fill="#141414" stroke="none" stroke-width="1"/>
<circle cx="411.4" cy="505.0" r="1.24" fill="#141414" stroke="none" stroke-width="1"/>
<circle cx="411.78" cy="504.52" r="1.47" fill="#141414" stroke="none" stroke-width="1"/>
<circle cx="412.17" cy="504.05" r="1.66" fill="#141414" stroke="none" stroke-width="1"/>
<circle cx="412.55" cy="503.57" r="1.36" fill="#141414" stroke="none" stroke-width="1"/>
<circle cx="412.93" cy="503.1" r="1.58" fill="#141414" stroke="none" stroke-width="1"/>
<circle cx="413.32" cy="502.62" r="1.64" fill="#141414" stroke="none" stroke-width="1"/>
<circle cx="413.7" cy="502.15" r="1.44" fill="#141414" stroke="none" stroke-width="1"/>
<circle cx="414.08" cy="501.68" r="1.6" fill="#141414" stroke="none" stroke-width="1"/>
<circle cx="414.47" cy="501.2" r="1.76" fill="#141414" stroke="none" stroke-width="1"/>
<circle cx="414.85" cy="500.73" r="1.69" fill="#141414" stroke="none" stroke-width="1"/>
<circle cx="415.23" cy="500.25" r="1.83" fill="#141414" stroke="none" stroke-width="1"/>
<circle cx="415.62" cy="499.78" r="1.63" fill="#141414" stroke="none" stroke-width="1"/>
<circle cx="416.0" cy="499.3" r="1.7" fill="#141414" stroke="none" stroke-width="1"/>
<circle cx="416.29" cy="498.73" r="1.68" fill="#141414" stroke="none" stroke-width="1"/>
<circle cx="416.58" cy="498.16" r="1.87" fill="#141414" stroke="none" stroke-width="1"/>
<circle cx="416.87" cy="497.59" r="2.08" fill="#141414" stroke="none" stroke-width="1"/>
<circle cx="417.16" cy="497.02" r="1.98" fill="#141414" stroke="none" stroke-width="1"/>
<circle cx="417.45" cy="496.45" r="2.09" fill="#141414" stroke="none" stroke-width="1"/>
<circle cx="417.74" cy="495.88" r="1.97" fill="#141414" stroke="none" stroke-width="1"/>
<circle cx="418.03" cy="495.31" r="2.15" fill="#141414" stroke="none" stroke-width="1"/>
<circle cx="418.32" cy="494.74" r="1.93" fill="#141414" stroke="none" stroke-width="1"/>
<circle cx="418.61" cy="494.17" r="2.04" fill="#141414" stroke="none" stroke-width="1"/>
<circle cx="418.9" cy="493.6" r="2.23" fill="#141414" stroke="none" stroke-width="1"/>
<circle cx="419.33" cy="493.12" r="2.19" fill="#141414" stroke="none" stroke-width="1"/>
<circle cx="419.77" cy="492.63" r="2.01" fill="#141414" stroke="none" stroke-width="1"/>
<circle cx="420.2" cy="492.15" r="1.82" fill="#141414" stroke="none" stroke-width="1"/>
<circle cx="420.63" cy="491.67" r="1.83" fill="#141414" stroke="none" stroke-width="1"/>
<circle cx="421.07" cy="491.18" r="1.74" fill="#141414" stroke="none" stroke-width="1"/>
<circle cx="421.5" cy="490.7" r="1.71" fill="#141414" stroke="none" stroke-width="1"/>
<circle cx="421.93" cy="490.22" r="1.86" fill="#141414" stroke="none" stroke-width="1"/>
<circle cx="422.37" cy="489.73" r="1.56" fill="#141414" stroke="none" stroke-width="1"/>
<circle cx="422.8" cy="489.25" r="1.77" fill="#141414" stroke="none" stroke-width="1"/>
<circle cx="423.23" cy="488.77" r="1.71" fill="#141414" stroke="none" stroke-width="1"/>
<circle cx="423.67" cy="488.28" r="1.32" fill="#141414" stroke="none" stroke-width="1"/>
<circle cx="424.1" cy="487.8" r="1.39" fill="#141414" stroke="none" stroke-width="1"/>
<circle cx="424.62" cy="487.45" r="1.46" fill="#141414" stroke="none" stroke-width="1"/>
<circle cx="425.15" cy="487.11" r="1.3" fill="#141414" stroke="none" stroke-width="1"/>
<circle cx="425.67" cy="486.76" r="1.49" fill="#141414" stroke="none" stroke-width="1"/>
<circle cx="426.19" cy="486.42" r="1.71" fill="#141414" stroke="none" stroke-width="1"/>
<circle cx="426.72" cy="486.07" r="1.42" fill="#141414" stroke="none" stroke-width="1"/>
<circle cx="427.24" cy="485.72" r="1.64" fill="#141414" stroke="none" stroke-width="1"/>
<circle cx="427.76" cy="485.38" r="1.48" fill="#141414" stroke="none" stroke-width="1"/>
<circle cx="428.28" cy="485.03" r="1.69" fill="#141414" stroke="none" stroke-width="1"/>
<circle cx="428.81" cy="484.68" r="1.85" fill="#141414" stroke="none" stroke-width="1"/>
<circle cx="429.33" cy="484.34" r="1.6" fill="#141414" stroke="none" stroke-width="1"/>
<circle cx="429.85" cy="483.99" r="1.55" fill="#141414" stroke="none" stroke-width="1"/>
<circle cx="430.38" cy="483.65" r="1.61" fill="#141414" stroke="none" stroke-width="1"/>
<circle cx="430.9" cy="483.3" r="1.82" fill="#141414" stroke="none" stroke-width="1"/>
<circle cx="431.43" cy="482.95" r="1.58" fill="#141414" stroke="none" stroke-width="1"/>
<circle cx="431.96" cy="482.59" r="1.58" fill="#141414" stroke="none" stroke-width="1"/>
<circle cx="432.49" cy="482.24" r="1.72" fill="#141414" stroke="none" stroke-width="1"/>
<circle cx="433.02" cy="481.88" r="1.86" fill="#141414" stroke="none" stroke-width="1"/>
<circle cx="433.55" cy="481.53" r="1.63" fill="#141414" stroke="none" stroke-width="1"/>
<circle cx="434.08" cy="481.18" r="1.59" fill="#141414" stroke="none" stroke-width="1"/>
<circle cx="434.62" cy="480.82" r="1.66" fill="#141414" stroke="none" stroke-width="1"/>
<circle cx="435.15" cy="480.47" r="1.42" fill="#141414" stroke="none" stroke-width="1"/>
<circle cx="435.68" cy="480.12" r="1.58" fill="#141414" stroke="none" stroke-width="1"/>
<circle cx="436.21" cy="479.76" r="1.39" fill="#141414" stroke="none" stroke-width="1"/>
<circle cx="436.74" cy="479.41" r="1.54" fill="#141414" stroke="none" stroke-width="1"/>
<circle cx="437.27" cy="479.05" r="1.65" fill="#141414" stroke="none" stroke-width="1"/>
<circle cx="437.8" cy="478.7" r="1.26" fill="#141414" stroke="none" stroke-width="1"/>
<circle cx="438.33" cy="478.35" r="1.46" fill="#141414" stroke="none" stroke-width="1"/>
<circle cx="438.86" cy="477.99" r="1.48" fill="#141414" stroke="none" stroke-width="1"/>
<circle cx="439.39" cy="477.64" r="1.3" fill="#141414" stroke="none" stroke-width="1"/>
<circle cx="439.92" cy="477.28" r="1.35" fill="#141414" stroke="none" stroke-width="1"/>
<circle cx="440.45" cy="476.93" r="1.64" fill="#141414" stroke="none" stroke-width="1"/>
<circle cx="440.98" cy="476.58" r="1.64" fill="#141414" stroke="none" stroke-width="1"/>
<circle cx="441.52" cy="476.22" r="1.29" fill="#141414" stroke="none" stroke-width="1"/>
<circle cx="442.05" cy="475.87" r="1.52" fill="#141414" stroke="none" stroke-width="1"/>
<circle cx="442.58" cy="475.52" r="1.62" fill="#141414" stroke="none" stroke-width="1"/>
<circle cx="443.11" cy="475.16" r="1.33" fill="#141414" stroke="none" stroke-width="1"/>
<circle cx="443.64" cy="474.81" r="1.48" fill="#141414" stroke="none" stroke-width="1"/>
<circle cx="444.17" cy="474.45" r="1.26" fill="#141414" stroke="none" stroke-width="1"/>
<circle cx="444.7" cy="474.1" r="1.39" fill="#141414" stroke="none" stroke-width="1"/>
<circle cx="445.27" cy="473.86" r="1.48" fill="#141414" stroke="none" stroke-width="1"/>
<circle cx="445.85" cy="473.62" r="1.42" fill="#141414" stroke="none" stroke-width="1"/>
<circle cx="446.43" cy="473.38" r="1.46" fill="#141414" stroke="none" stroke-width="1"/>
<circle cx="447.0" cy="473.13" r="1.15" fill="#141414" stroke="none" stroke-width="1"/>
<circle cx="447.57" cy="472.89" r="1.23" fill="#141414" stroke="none" stroke-width="1"/>
<circle cx="448.15" cy="472.65" r="1.41" fill="#141414" stroke="none" stroke-width="1"/>
<circle cx="448.73" cy="472.41" r="1.26" fill="#141414" stroke="none" stroke-width="1"/>
<circle cx="449.3" cy="472.17" r="1.18" fill="#141414" stroke="none" stroke-width="1"/>
<circle cx="449.88" cy="471.93" r="1.13" fill="#141414" stroke="none" stroke-width="1"/>
<circle cx="450.45" cy="471.68" r="1.33" fill="#141414" stroke="none" stroke-width="1"/>
<circle cx="451.03" cy="471.44" r="1.14" fill="#141414" stroke="none" stroke-width="1"/>
<circle cx="451.6" cy="471.2" r="0.89" fill="#141414" stroke="none" stroke-width="1"/>
<circle cx="452.23" cy="471.01" r="1.24" fill="#141414" stroke="none" stroke-width="1"/>
<circle cx="452.87" cy="470.82" r="1.09" fill="#141414" stroke="none" stroke-width="1"/>
<circle cx="453.5" cy="470.63" r="1.17" fill="#141414" stroke="none" stroke-width="1"/>
<circle cx="454.13" cy="470.44" r="1.13" fill="#141414" stroke="none" stroke-width="1"/>
<circle cx="454.77" cy="470.26" r="1.26" fill="#141414" stroke="none" stroke-width="1"/>
<circle cx="455.4" cy="470.07" r="1.25" fill="#141414" stroke="none" stroke-width="1"/>
<circle cx="456.03" cy="469.88" r="1.2" fill="#141414" stroke="none" stroke-width="1"/>
<circle cx="456.67" cy="469.69" r="1.45" fill="#141414" stroke="none" stroke-width="1"/>
<circle cx="457.3" cy="469.5" r="1.28" fill="#141414" stroke="none" stroke-width="1"/>
<circle cx="457.69" cy="468.99" r="1.63" fill="#141414" stroke="none" stroke-width="1"/>
<circle cx="458.08" cy="468.48" r="1.41" fill="#141414" stroke="none" stroke-width="1"/>
<circle cx="458.47" cy="467.97" r="1.79" fill="#141414" stroke="none" stroke-width="1"/>
<circle cx="458.86" cy="467.46" r="1.88" fill="#141414" stroke="none" stroke-width="1"/>
<circle cx="459.24" cy="466.94" r="1.84" fill="#141414" stroke="none" stroke-width="1"/>
<circle cx="459.63" cy="466.43" r="2.0" fill="#141414" stroke="none" stroke-width="1"/>
<circle cx="460.02" cy="465.92" r="1.9" fill="#141414" stroke="none" stroke-width="1"/>
<circle cx="460.41" cy="465.41" r="2.18" fill="#141414" stroke="none" stroke-width="1"/>
<circle cx="460.8" cy="464.9" r="2.13" fill="#141414" stroke="none" stroke-width="1"/>
<circle cx="461.25" cy="464.5" r="1.98" fill="#141414" stroke="none" stroke-width="1"/>
<circle cx="461.7" cy="464.1" r="2.2" fill="#141414" stroke="none" stroke-width="1"/>
<circle cx="462.15" cy="463.7" r="1.9" fill="#141414" stroke="none" stroke-width="1"/>
<circle cx="462.6" cy="463.3" r="1.82" fill="#141414" stroke="none" stroke-width="1"/>
<circle cx="463.05" cy="462.9" r="1.94" fill="#141414" stroke="none" stroke-width="1"/>
<circle cx="463.5" cy="462.5" r="1.68" fill="#141414" stroke="none" stroke-width="1"/>
<circle cx="463.95" cy="462.1" r="1.72" fill="#141414" stroke="none" stroke-width="1"/>
<circle cx="464.4" cy="461.7" r="1.45" fill="#141414" stroke="none" stroke-width="1"/>
<circle cx="464.85" cy="461.3" r="1.65" fill="#141414" stroke="none" stroke-width="1"/>
<circle cx="465.3" cy="460.9" r="1.34" fill="#141414" stroke="none" stroke-width="1"/>
<circle cx="465.83" cy="460.54" r="1.23" fill="#141414" stroke="none" stroke-width="1"/>
<circle cx="466.35" cy="460.17" r="1.56" fill="#141414" stroke="none" stroke-width="1"/>
<circle cx="466.88" cy="459.81" r="1.21" fill="#141414" stroke="none" stroke-width="1"/>
<circle cx="467.41" cy="459.45" r="1.49" fill="#141414" stroke="none" stroke-width="1"/>
<circle cx="467.94" cy="459.08" r="1.47" fill="#141414" stroke="none" stroke-width="1"/>
<circle cx="468.46" cy="458.72" r="1.29" fill="#141414" stroke="none" stroke-width="1"/>
<circle cx="468.99" cy="458.35" r="1.02" fill="#141414" stroke="none" stroke-width="1"/>
<circle cx="469.52" cy="457.99" r="1.0" fill="#141414" stroke="none" stroke-width="1"/>
<circle cx="470.05" cy="457.63" r="1.03" fill="#141414" stroke="none" stroke-width="1"/>
<circle cx="470.57" cy="457.26" r="1.07" fill="#141414" stroke="none" stroke-width="1"/>
<circle cx="471.1" cy="456.9" r="1.12" fill="#141414" stroke="none" stroke-width="1"/>
<circle cx="471.62" cy="456.54" r="1.27" fill="#141414" stroke="none" stroke-width="1"/>
<circle cx="472.14" cy="456.17" r="1.02" fill="#141414" stroke="none" stroke-width="1"/>
<circle cx="472.65" cy="455.81" r="0.94" fill="#141414" stroke="none" stroke-width="1"/>
<circle cx="473.17" cy="455.45" r="1.1" fill="#141414" stroke="none" stroke-width="1"/>
<circle cx="473.69" cy="455.08" r="0.93" fill="#141414" stroke="none" stroke-width="1"/>
<circle cx="474.21" cy="454.72" r="0.91" fill="#141414" stroke="none" stroke-width="1"/>
<circle cx="474.73" cy="454.35" r="1.1" fill="#141414" stroke="none" stroke-width="1"/>
<circle cx="475.25" cy="453.99" r="1.16" fill="#141414" stroke="none" stroke-width="1"/>
<circle cx="475.76" cy="453.63" r="0.91" fill="#141414" stroke="none" stroke-width="1"/>
<circle cx="476.28" cy="453.26" r="1.06" fill="#141414" stroke="none" stroke-width="1"/>
<circle cx="476.8" cy="452.9" r="1.16" fill="#141414" stroke="none" stroke-width="1"/>
<circle cx="477.33" cy="452.58" r="1.19" fill="#141414" stroke="none" stroke-width="1"/>
<circle cx="477.87" cy="452.27" r="1.03" fill="#141414" stroke="none" stroke-width="1"/>
<circle cx="478.4" cy="451.95" r="1.23" fill="#141414" stroke="none" stroke-width="1"/>
<circle cx="478.93" cy="451.63" r="0.95" fill="#141414" stroke="none" stroke-width="1"/>
<circle cx="479.47" cy="451.32" r="1.17" fill="#141414" stroke="none" stroke-width="1"/>
<circle cx="467.47" cy="458.82" r="0.58" fill="#2a2a2a" stroke="none" stroke-width="1"/>
<circle cx="408.41" cy="505.21" r="1.0" fill="#2a2a2a" stroke="none" stroke-width="1"/>
<circle cx="412.7" cy="501.49" r="0.51" fill="#2a2a2a" stroke="none" stroke-width="1"/>
<circle cx="413.64" cy="497.7" r="0.81" fill="#2a2a2a" stroke="none" stroke-width="1"/>
<circle cx="412.48" cy="497.43" r="0.93" fill="#2a2a2a" stroke="none" stroke-width="1"/>
<circle cx="481.19" cy="453.26" r="1.21" fill="#2a2a2a" stroke="none" stroke-width="1"/>
<circle cx="445.73" cy="471.82" r="1.23" fill="#2a2a2a" stroke="none" stroke-width="1"/>
<circle cx="409.19" cy="502.58" r="0.74" fill="#2a2a2a" stroke="none" stroke-width="1"/>
<circle cx="460.87" cy="461.11" r="1.06" fill="#2a2a2a" stroke="none" stroke-width="1"/>
<circle cx="436.69" cy="477.31" r="0.54" fill="#2a2a2a" stroke="none" stroke-width="1"/>
<circle cx="451.59" cy="473.03" r="0.68" fill="#2a2a2a" stroke="none" stroke-width="1"/>
<circle cx="467.89" cy="455.33" r="1.2" fill="#2a2a2a" stroke="none" stroke-width="1"/>
<circle cx="407.61" cy="504.01" r="1.04" fill="#2a2a2a" stroke="none" stroke-width="1"/>
<circle cx="438.37" cy="481.35" r="0.99" fill="#2a2a2a" stroke="none" stroke-width="1"/>
<circle cx="420.64" cy="497.56" r="0.88" fill="#2a2a2a" stroke="none" stroke-width="1"/>
<circle cx="451.95" cy="473.28" r="0.77" fill="#2a2a2a" stroke="none" stroke-width="1"/>
<circle cx="470.4" cy="461.35" r="0.97" fill="#2a2a2a" stroke="none" stroke-width="1"/>
<circle cx="482.43" cy="451.33" r="0.58" fill="#2a2a2a" stroke="none" stroke-width="1"/>
<circle cx="430.56" cy="487.67" r="0.65" fill="#2a2a2a" stroke="none" stroke-width="1"/>
<circle cx="421.93" cy="495.15" r="1.25" fill="#2a2a2a" stroke="none" stroke-width="1"/>
<circle cx="476.65" cy="453.99" r="0.87" fill="#2a2a2a" stroke="none" stroke-width="1"/>
<circle cx="444.42" cy="475.78" r="0.69" fill="#2a2a2a" stroke="none" stroke-width="1"/>
<circle cx="418.51" cy="489.8" r="0.85" fill="#2a2a2a" stroke="none" stroke-width="1"/>
<circle cx="479.22" cy="452.74" r="1.14" fill="#2a2a2a" stroke="none" stroke-width="1"/>
<circle cx="411.01" cy="509.43" r="0.98" fill="#2a2a2a" stroke="none" stroke-width="1"/>
<circle cx="422.78" cy="494.4" r="0.74" fill="#2a2a2a" stroke="none" stroke-width="1"/>
<circle cx="470.32" cy="459.49" r="1.22" fill="#2a2a2a" stroke="none" stroke-width="1"/>
<circle cx="479.54" cy="450.25" r="1.27" fill="#2a2a2a" stroke="none" stroke-width="1"/>
<circle cx="411.81" cy="505.53" r="0.98" fill="#2a2a2a" stroke="none" stroke-width="1"/>
<circle cx="441.61" cy="477.92" r="0.82" fill="#2a2a2a" stroke="none" stroke-width="1"/>
<circle cx="418.09" cy="497.59" r="0.99" fill="#2a2a2a" stroke="none" stroke-width="1"/>
<circle cx="449.04" cy="472.22" r="0.82" fill="#2a2a2a" stroke="none" stroke-width="1"/>
<circle cx="429.42" cy="488.23" r="0.65" fill="#2a2a2a" stroke="none" stroke-width="1"/>
<circle cx="459.4" cy="463.12" r="1.0" fill="#2a2a2a" stroke="none" stroke-width="1"/>
<circle cx="425.8" cy="485.64" r="1.11" fill="#2a2a2a" stroke="none" stroke-width="1"/>
<circle cx="473.0" cy="453.42" r="0.93" fill="#2a2a2a" stroke="none" stroke-width="1"/>
<circle cx="432.13" cy="485.07" r="0.88" fill="#2a2a2a" stroke="none" stroke-width="1"/>
<circle cx="470.32" cy="459.49" r="0.91" fill="#2a2a2a" stroke="none" stroke-width="1"/>
<circle cx="412.63" cy="500.17" r="0.93" fill="#2a2a2a" stroke="none" stroke-width="1"/>
<circle cx="415.6" cy="505.29" r="0.53" fill="#2a2a2a" stroke="none" stroke-width="1"/>
<circle cx="417.67" cy="501.14" r="1.16" fill="#2a2a2a" stroke="none" stroke-width="1"/>
<circle cx="478.34" cy="449.15" r="1.21" fill="#2a2a2a" stroke="none" stroke-width="1"/>
<circle cx="447.72" cy="476.59" r="0.79" fill="#2a2a2a" stroke="none" stroke-width="1"/>
<circle cx="421.27" cy="492.63" r="0.65" fill="#2a2a2a" stroke="none" stroke-width="1"/>
<circle cx="456.82" cy="468.11" r="0.51" fill="#2a2a2a" stroke="none" stroke-width="1"/>
<circle cx="462.45" cy="467.23" r="1.19" fill="#2a2a2a" stroke="none" stroke-width="1"/>
<circle cx="462.17" cy="465.21" r="0.72" fill="#2a2a2a" stroke="none" stroke-width="1"/>
<circle cx="412.09" cy="500.47" r="0.69" fill="#2a2a2a" stroke="none" stroke-width="1"/>
<circle cx="428.38" cy="482.11" r="0.98" fill="#2a2a2a" stroke="none" stroke-width="1"/>
<circle cx="450.95" cy="471.36" r="0.65" fill="#2a2a2a" stroke="none" stroke-width="1"/>
</g>
</g>
<line x1="352.4" y1="439.4" x2="400.6" y2="439.4" stroke="#f4f4f4" stroke-width="1.1"/>
<text x="376.4" y="436.5" font-size="8.0" font-weight="bold" text-anchor="middle" fill="#f8f8f8">10µm</text>
<line x1="428.4" y1="439.4" x2="476.0" y2="439.4" stroke="#f4f4f4" stroke-width="1.1"/>
<text x="452.0" y="436.5" font-size="8.0" font-weight="bold" text-anchor="middle" fill="#f8f8f8">10µm</text>
<line x1="352.4" y1="503.0" x2="401.3" y2="503.0" stroke="#f4f4f4" stroke-width="1.1"/>
<text x="374.5" y="500.3" font-size="8.0" font-weight="bold" text-anchor="middle" fill="#f8f8f8">10µm</text>
<line x1="428.4" y1="503.0" x2="476.6" y2="503.0" stroke="#f4f4f4" stroke-width="1.1"/>
<text x="452.0" y="500.2" font-size="8.0" font-weight="bold" text-anchor="middle" fill="#f8f8f8">10µm</text>
<line x1="508.8" y1="390.2" x2="508.8" y2="497.1" stroke="#555" stroke-width="1.0"/>
<line x1="508.8" y1="497.1" x2="584.8" y2="497.1" stroke="#555" stroke-width="1.0"/>
<line x1="529.3499999999999" y1="497.1" x2="529.3499999999999" y2="499.1" stroke="#555" stroke-width="0.8"/>
<line x1="564.6500000000001" y1="497.1" x2="564.6500000000001" y2="499.1" stroke="#555" stroke-width="0.8"/>
<line x1="506.6" y1="395.4" x2="508.8" y2="395.4" stroke="#555" stroke-width="0.8"/>
<text x="506.7" y="398.29999999999995" font-size="8.3" text-anchor="end" fill="#333">15</text>
<line x1="506.6" y1="428.1" x2="508.8" y2="428.1" stroke="#555" stroke-width="0.8"/>
<text x="506.7" y="431.0" font-size="8.3" text-anchor="end" fill="#333">10</text>
<line x1="506.6" y1="460.7" x2="508.8" y2="460.7" stroke="#555" stroke-width="0.8"/>
<text x="506.7" y="463.59999999999997" font-size="8.3" text-anchor="end" fill="#333">5</text>
<line x1="506.6" y1="493" x2="508.8" y2="493" stroke="#555" stroke-width="0.8"/>
<text x="506.7" y="495.9" font-size="8.3" text-anchor="end" fill="#333">0</text>
<rect x="516.4" y="454.2" width="25.899999999999977" height="12.600000000000023" fill="#d7a8d0" stroke="#222" stroke-width="0.8"/>
<line x1="516.4" y1="461.3" x2="542.3" y2="461.3" stroke="#222" stroke-width="1.4"/>
<line x1="529.3499999999999" y1="440.5" x2="529.3499999999999" y2="480.0" stroke="#151515" stroke-width="1.15"/>
<circle cx="529.105594421747" cy="467.2086057890901" r="0.45" fill="#111" stroke="none" stroke-width="1"/>
<circle cx="529.0507054006672" cy="454.2880883149258" r="0.45" fill="#111" stroke="none" stroke-width="1"/>
<circle cx="529.2559822418388" cy="458.83266082988575" r="0.45" fill="#111" stroke="none" stroke-width="1"/>
<circle cx="529.3552050132325" cy="477.7090424713991" r="0.45" fill="#111" stroke="none" stroke-width="1"/>
<circle cx="529.3035519785636" cy="478.5189214915416" r="0.45" fill="#111" stroke="none" stroke-width="1"/>
<circle cx="529.0634991093406" cy="477.24071076880256" r="0.45" fill="#111" stroke="none" stroke-width="1"/>
<circle cx="529.5787964872703" cy="463.2314920288707" r="0.45" fill="#111" stroke="none" stroke-width="1"/>
<circle cx="529.1562672752248" cy="475.109822534589" r="0.45" fill="#111" stroke="none" stroke-width="1"/>
<circle cx="529.6633962597198" cy="455.21638771497925" r="0.45" fill="#111" stroke="none" stroke-width="1"/>
<circle cx="529.2776763322555" cy="457.2044335296088" r="0.45" fill="#111" stroke="none" stroke-width="1"/>
<circle cx="529.0326078764324" cy="441.43792332907964" r="0.45" fill="#111" stroke="none" stroke-width="1"/>
<circle cx="529.202726500432" cy="446.09049586757715" r="0.45" fill="#111" stroke="none" stroke-width="1"/>
<circle cx="529.0824545666547" cy="474.3019242073812" r="0.45" fill="#111" stroke="none" stroke-width="1"/>
<circle cx="529.5712884513839" cy="467.81496794797357" r="0.45" fill="#111" stroke="none" stroke-width="1"/>
<circle cx="529.4071201145637" cy="472.86130799300446" r="0.45" fill="#111" stroke="none" stroke-width="1"/>
<circle cx="529.2606782799079" cy="454.7629179774157" r="0.45" fill="#111" stroke="none" stroke-width="1"/>
<circle cx="529.0439522824812" cy="458.3640936044725" r="0.45" fill="#111" stroke="none" stroke-width="1"/>
<circle cx="529.1441710989734" cy="477.6457537863338" r="0.45" fill="#111" stroke="none" stroke-width="1"/>
<circle cx="529.2993146139685" cy="453.12420105931943" r="0.45" fill="#111" stroke="none" stroke-width="1"/>
<circle cx="529.4098933044553" cy="467.59118677011674" r="0.45" fill="#111" stroke="none" stroke-width="1"/>
<circle cx="529.2098368978045" cy="462.0992171333544" r="0.45" fill="#111" stroke="none" stroke-width="1"/>
<circle cx="529.4892961036106" cy="448.6220104798616" r="0.45" fill="#111" stroke="none" stroke-width="1"/>
<circle cx="529.402096597181" cy="470.35818782647493" r="0.45" fill="#111" stroke="none" stroke-width="1"/>
<circle cx="529.6125962469013" cy="459.25473809944765" r="0.45" fill="#111" stroke="none" stroke-width="1"/>
<circle cx="529.2015564354231" cy="451.1869110671509" r="0.45" fill="#111" stroke="none" stroke-width="1"/>
<circle cx="529.3499999999999" cy="435.8" r="0.7" fill="#111" stroke="none" stroke-width="1"/>
<rect x="551.6" y="437.2" width="26.100000000000023" height="16.30000000000001" fill="#f035d0" stroke="#222" stroke-width="0.8"/>
<line x1="551.6" y1="446.5" x2="577.7" y2="446.5" stroke="#222" stroke-width="1.4"/>
<line x1="564.6500000000001" y1="417.4" x2="564.6500000000001" y2="464.9" stroke="#151515" stroke-width="1.15"/>
<circle cx="564.3826460447785" cy="418.3416947441023" r="0.45" fill="#111" stroke="none" stroke-width="1"/>
<circle cx="564.8299986506958" cy="445.0391659652017" r="0.45" fill="#111" stroke="none" stroke-width="1"/>
<circle cx="564.6422741703332" cy="457.680734603626" r="0.45" fill="#111" stroke="none" stroke-width="1"/>
<circle cx="564.7677510995742" cy="463.0376552902467" r="0.45" fill="#111" stroke="none" stroke-width="1"/>
<circle cx="564.7011181581943" cy="428.58288385489135" r="0.45" fill="#111" stroke="none" stroke-width="1"/>
<circle cx="564.5196232589938" cy="423.3148039380328" r="0.45" fill="#111" stroke="none" stroke-width="1"/>
<circle cx="564.7160589139736" cy="431.8734701020012" r="0.45" fill="#111" stroke="none" stroke-width="1"/>
<circle cx="564.619343731911" cy="437.3549777965816" r="0.45" fill="#111" stroke="none" stroke-width="1"/>
<circle cx="564.9612767665757" cy="425.00153042565427" r="0.45" fill="#111" stroke="none" stroke-width="1"/>
<circle cx="564.7649065438324" cy="442.3803289725669" r="0.45" fill="#111" stroke="none" stroke-width="1"/>
<circle cx="564.7910444149131" cy="462.01820218913207" r="0.45" fill="#111" stroke="none" stroke-width="1"/>
<circle cx="564.9951671576267" cy="434.1613794099357" r="0.45" fill="#111" stroke="none" stroke-width="1"/>
<circle cx="564.499216872466" cy="425.8585726360385" r="0.45" fill="#111" stroke="none" stroke-width="1"/>
<circle cx="564.768056901119" cy="446.5749064837812" r="0.45" fill="#111" stroke="none" stroke-width="1"/>
<circle cx="564.62318670041" cy="463.8282609173595" r="0.45" fill="#111" stroke="none" stroke-width="1"/>
<circle cx="564.3819670561373" cy="456.9177020019391" r="0.45" fill="#111" stroke="none" stroke-width="1"/>
<circle cx="564.8377630919308" cy="462.09966508176274" r="0.45" fill="#111" stroke="none" stroke-width="1"/>
<circle cx="564.473330383588" cy="458.7563394541125" r="0.45" fill="#111" stroke="none" stroke-width="1"/>
<circle cx="564.9099953818885" cy="446.3298891011717" r="0.45" fill="#111" stroke="none" stroke-width="1"/>
<circle cx="564.6144311806646" cy="461.0723881929934" r="0.45" fill="#111" stroke="none" stroke-width="1"/>
<circle cx="564.9183686785092" cy="438.8016043156582" r="0.45" fill="#111" stroke="none" stroke-width="1"/>
<circle cx="564.904789128789" cy="425.9842077028023" r="0.45" fill="#111" stroke="none" stroke-width="1"/>
<circle cx="564.5907075620482" cy="451.6749994355899" r="0.45" fill="#111" stroke="none" stroke-width="1"/>
<circle cx="564.9189349790388" cy="447.8583696467478" r="0.45" fill="#111" stroke="none" stroke-width="1"/>
<circle cx="564.4056446340538" cy="419.4077678117104" r="0.45" fill="#111" stroke="none" stroke-width="1"/>
<circle cx="564.6500000000001" cy="410.7" r="0.7" fill="#111" stroke="none" stroke-width="1"/>
<line x1="525.8" y1="403.4" x2="566.8" y2="403.4" stroke="#444" stroke-width="1.0"/>
<polygon points="540.95,396.90 541.64,398.55 543.42,398.70 542.06,399.86 542.48,401.60 540.95,400.67 539.42,401.60 539.84,399.86 538.48,398.70 540.26,398.55" fill="#111"/>
<polygon points="546.30,396.90 546.99,398.55 548.77,398.70 547.41,399.86 547.83,401.60 546.30,400.67 544.77,401.60 545.19,399.86 543.83,398.70 545.61,398.55" fill="#111"/>
<polygon points="551.65,396.90 552.34,398.55 554.12,398.70 552.76,399.86 553.18,401.60 551.65,400.67 550.12,401.60 550.54,399.86 549.18,398.70 550.96,398.55" fill="#111"/>
<text x="494.7" y="448.8" font-size="9.4" text-anchor="middle" fill="#2a2c55" transform="rotate(-90 494.7 448.8)">Spines/10µm</text>
<text x="528.45" y="507.6" font-size="9.6" text-anchor="middle" fill="#2a2c55">eGFP</text>
<text x="564.0" y="507.6" font-size="9.6" text-anchor="middle" fill="#2a2c55">Egr1</text>
<line x1="607.5" y1="392.6" x2="607.5" y2="497" stroke="#555" stroke-width="1.0"/>
<line x1="607.5" y1="497" x2="683.6" y2="497" stroke="#555" stroke-width="1.0"/>
<line x1="628.1" y1="497" x2="628.1" y2="499" stroke="#555" stroke-width="0.8"/>
<line x1="662.5" y1="497" x2="662.5" y2="499" stroke="#555" stroke-width="0.8"/>
<line x1="605.3" y1="397.2" x2="607.5" y2="397.2" stroke="#555" stroke-width="0.8"/>
<text x="605.4" y="400.09999999999997" font-size="8.3" text-anchor="end" fill="#333">15</text>
<line x1="605.3" y1="428.8" x2="607.5" y2="428.8" stroke="#555" stroke-width="0.8"/>
<text x="605.4" y="431.7" font-size="8.3" text-anchor="end" fill="#333">10</text>
<line x1="605.3" y1="460.7" x2="607.5" y2="460.7" stroke="#555" stroke-width="0.8"/>
<text x="605.4" y="463.59999999999997" font-size="8.3" text-anchor="end" fill="#333">5</text>
<line x1="605.3" y1="492.8" x2="607.5" y2="492.8" stroke="#555" stroke-width="0.8"/>
<text x="605.4" y="495.7" font-size="8.3" text-anchor="end" fill="#333">0</text>
<rect x="615.2" y="445.2" width="25.799999999999955" height="17.19999999999999" fill="#a4bfcf" stroke="#222" stroke-width="0.8"/>
<line x1="615.2" y1="454.5" x2="641.0" y2="454.5" stroke="#222" stroke-width="1.4"/>
<line x1="628.1" y1="422.9" x2="628.1" y2="478.1" stroke="#151515" stroke-width="1.15" stroke-dasharray="1.3,0.45"/>
<circle cx="627.9123698067737" cy="468.3727813873316" r="0.45" fill="#111" stroke="none" stroke-width="1"/>
<circle cx="628.089473911239" cy="465.2198481808165" r="0.45" fill="#111" stroke="none" stroke-width="1"/>
<circle cx="627.933922633509" cy="445.5803825939795" r="0.45" fill="#111" stroke="none" stroke-width="1"/>
<circle cx="628.0432625507877" cy="477.8740330931445" r="0.45" fill="#111" stroke="none" stroke-width="1"/>
<circle cx="628.1464388565945" cy="457.71720277621114" r="0.45" fill="#111" stroke="none" stroke-width="1"/>
<circle cx="628.2333455599952" cy="425.4889945110147" r="0.45" fill="#111" stroke="none" stroke-width="1"/>
<circle cx="628.1823149245864" cy="449.644872894493" r="0.45" fill="#111" stroke="none" stroke-width="1"/>
<circle cx="627.7877950252566" cy="440.77375544878754" r="0.45" fill="#111" stroke="none" stroke-width="1"/>
<circle cx="628.2959786434943" cy="428.445777844801" r="0.45" fill="#111" stroke="none" stroke-width="1"/>
<circle cx="628.3085111848376" cy="429.8268722357769" r="0.45" fill="#111" stroke="none" stroke-width="1"/>
<circle cx="628.0292851826242" cy="456.440684339602" r="0.45" fill="#111" stroke="none" stroke-width="1"/>
<circle cx="628.19400269598" cy="472.3847524271901" r="0.45" fill="#111" stroke="none" stroke-width="1"/>
<circle cx="627.7971433310902" cy="474.66392024664844" r="0.45" fill="#111" stroke="none" stroke-width="1"/>
<circle cx="627.8636122314405" cy="466.57627216337175" r="0.45" fill="#111" stroke="none" stroke-width="1"/>
<circle cx="627.7868029227232" cy="459.32903839677465" r="0.45" fill="#111" stroke="none" stroke-width="1"/>
<circle cx="627.8558854525957" cy="478.08712283904515" r="0.45" fill="#111" stroke="none" stroke-width="1"/>
<circle cx="628.0045269454242" cy="472.4991668851527" r="0.45" fill="#111" stroke="none" stroke-width="1"/>
<circle cx="628.3620326641617" cy="476.69235105602877" r="0.45" fill="#111" stroke="none" stroke-width="1"/>
<circle cx="627.8539853397316" cy="444.203391874076" r="0.45" fill="#111" stroke="none" stroke-width="1"/>
<circle cx="627.9931726822376" cy="464.17537183804933" r="0.45" fill="#111" stroke="none" stroke-width="1"/>
<circle cx="627.8359895615336" cy="457.99817813803884" r="0.45" fill="#111" stroke="none" stroke-width="1"/>
<circle cx="628.4451719051933" cy="431.23868165804925" r="0.45" fill="#111" stroke="none" stroke-width="1"/>
<circle cx="628.0886842594914" cy="452.37738185437166" r="0.45" fill="#111" stroke="none" stroke-width="1"/>
<circle cx="627.8215313317237" cy="473.35916668209967" r="0.45" fill="#111" stroke="none" stroke-width="1"/>
<circle cx="627.9353298242021" cy="459.1865017289863" r="0.45" fill="#111" stroke="none" stroke-width="1"/>
<rect x="649.6" y="437.3" width="25.799999999999955" height="21.19999999999999" fill="#2c93dc" stroke="#222" stroke-width="0.8"/>
<line x1="649.6" y1="448.7" x2="675.4" y2="448.7" stroke="#222" stroke-width="1.4"/>
<line x1="662.5" y1="416.5" x2="662.5" y2="474.6" stroke="#151515" stroke-width="1.15" stroke-dasharray="1.3,0.45"/>
<circle cx="662.2630070273685" cy="426.44350253113737" r="0.45" fill="#111" stroke="none" stroke-width="1"/>
<circle cx="662.8156899010123" cy="473.2581386072711" r="0.45" fill="#111" stroke="none" stroke-width="1"/>
<circle cx="662.2526217772294" cy="443.90824534805256" r="0.45" fill="#111" stroke="none" stroke-width="1"/>
<circle cx="662.1689297439955" cy="443.04168205624916" r="0.45" fill="#111" stroke="none" stroke-width="1"/>
<circle cx="662.8349508699033" cy="443.9168414814844" r="0.45" fill="#111" stroke="none" stroke-width="1"/>
<circle cx="662.6373377501354" cy="424.44081574017025" r="0.45" fill="#111" stroke="none" stroke-width="1"/>
<circle cx="662.4066898542328" cy="459.42920704097406" r="0.45" fill="#111" stroke="none" stroke-width="1"/>
<circle cx="662.6903565358814" cy="464.8948577935551" r="0.45" fill="#111" stroke="none" stroke-width="1"/>
<circle cx="662.6953384239367" cy="443.65638170566376" r="0.45" fill="#111" stroke="none" stroke-width="1"/>
<circle cx="662.3061291711722" cy="455.446463787725" r="0.45" fill="#111" stroke="none" stroke-width="1"/>
<circle cx="662.8394482354137" cy="427.45119656245413" r="0.45" fill="#111" stroke="none" stroke-width="1"/>
<circle cx="662.7142550093499" cy="425.062266792819" r="0.45" fill="#111" stroke="none" stroke-width="1"/>
<circle cx="662.667911114263" cy="427.0548559927958" r="0.45" fill="#111" stroke="none" stroke-width="1"/>
<circle cx="662.5123471069704" cy="461.4264356291649" r="0.45" fill="#111" stroke="none" stroke-width="1"/>
<circle cx="662.1702861055189" cy="453.9418162310769" r="0.45" fill="#111" stroke="none" stroke-width="1"/>
<circle cx="662.3455929773344" cy="472.97685591797807" r="0.45" fill="#111" stroke="none" stroke-width="1"/>
<circle cx="662.63476535919" cy="459.54196949414336" r="0.45" fill="#111" stroke="none" stroke-width="1"/>
<circle cx="662.4630593744367" cy="419.0264740645683" r="0.45" fill="#111" stroke="none" stroke-width="1"/>
<circle cx="662.841626640742" cy="420.1590682058503" r="0.45" fill="#111" stroke="none" stroke-width="1"/>
<circle cx="662.4052451197533" cy="419.1144633202305" r="0.45" fill="#111" stroke="none" stroke-width="1"/>
<circle cx="662.3087920787115" cy="461.7911390339186" r="0.45" fill="#111" stroke="none" stroke-width="1"/>
<circle cx="662.2930613542934" cy="463.1713719053377" r="0.45" fill="#111" stroke="none" stroke-width="1"/>
<circle cx="662.7802158365189" cy="438.34174230886276" r="0.45" fill="#111" stroke="none" stroke-width="1"/>
<circle cx="662.485631398383" cy="425.77069586507326" r="0.45" fill="#111" stroke="none" stroke-width="1"/>
<circle cx="662.7097506213947" cy="436.6619757109374" r="0.45" fill="#111" stroke="none" stroke-width="1"/>
<line x1="625.2" y1="403.9" x2="666.0" y2="403.9" stroke="#444" stroke-width="1.0"/>
<polygon points="642.93,397.40 643.61,399.05 645.40,399.20 644.04,400.36 644.45,402.10 642.93,401.17 641.40,402.10 641.81,400.36 640.45,399.20 642.24,399.05" fill="#111"/>
<polygon points="648.27,397.40 648.96,399.05 650.75,399.20 649.39,400.36 649.80,402.10 648.27,401.17 646.75,402.10 647.16,400.36 645.80,399.20 647.59,399.05" fill="#111"/>
<text x="593.6" y="448.8" font-size="9.4" text-anchor="middle" fill="#2a2c55" transform="rotate(-90 593.6 448.8)">Spines/10µm</text>
<text x="626.9" y="507.6" font-size="9.6" text-anchor="middle" fill="#2a2c55">eGFP</text>
<text x="660.8" y="507.6" font-size="9.6" text-anchor="middle" fill="#2a2c55">Egr1</text>
<text x="540.6" y="520.9" font-size="12" text-anchor="middle" fill="#db3ea6">OF</text>
<circle cx="557.05" cy="513.5" r="2.925" fill="none" stroke="#db3ea6" stroke-width="1.35"/>
<line x1="557.05" y1="516.425" x2="557.05" y2="520.9" stroke="#db3ea6" stroke-width="1.35"/>
<line x1="554.65" y1="518.9" x2="559.4499999999999" y2="518.9" stroke="#db3ea6" stroke-width="1.35"/>
<text x="636.3" y="520.9" font-size="12" text-anchor="middle" fill="#3a66c8">M</text>
<circle cx="648.8" cy="518.35" r="2.925" fill="none" stroke="#3a66c8" stroke-width="1.35"/>
<line x1="650.489348370903" y1="515.9621710526659" x2="652.2673350042019" y2="513.4490553305992" stroke="#3a66c8" stroke-width="1.35"/>
<polygon points="654.00,511.00 653.76,514.88 650.42,512.51" fill="#3a66c8"/>
</svg>
</body></html>
